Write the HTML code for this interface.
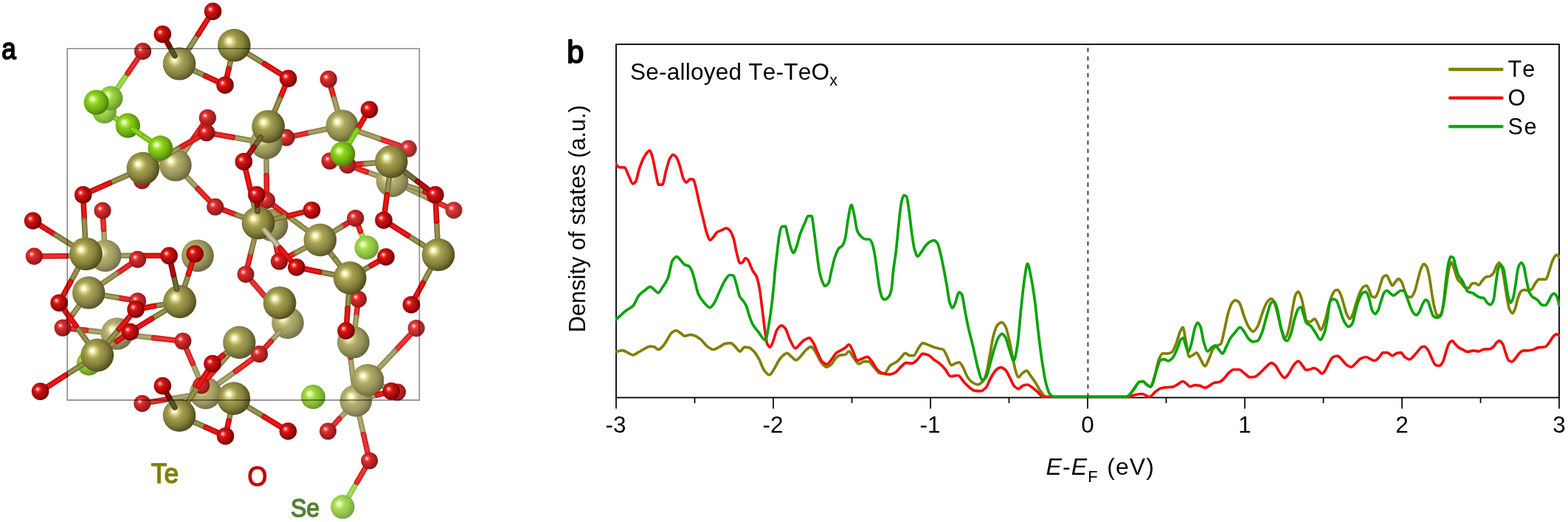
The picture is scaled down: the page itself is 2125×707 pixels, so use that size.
<!DOCTYPE html>
<html lang="en">
<head>
<meta charset="utf-8">
<title>Se-alloyed Te-TeOx structure and density of states</title>
<style>
html,body{margin:0;padding:0;background:#fff;}
body{width:2125px;height:707px;overflow:hidden;}
svg{display:block;}
</style>
</head>
<body>
<svg width="2125" height="707" viewBox="0 0 2125 707">
<rect width="2125" height="707" fill="#fff"/>
<defs>
<radialGradient id="gO0" cx="0.43" cy="0.44" r="0.61" fx="0.34" fy="0.36"><stop offset="0" stop-color="#ffc8c8"/><stop offset="0.07" stop-color="#ffc8c8"/><stop offset="0.2" stop-color="#f23434"/><stop offset="0.36" stop-color="#d01212"/><stop offset="0.66" stop-color="#a60808"/><stop offset="0.88" stop-color="#800404"/><stop offset="1" stop-color="#6a0202"/></radialGradient>
<radialGradient id="gO2" cx="0.43" cy="0.44" r="0.61" fx="0.34" fy="0.36"><stop offset="0" stop-color="#ffcece"/><stop offset="0.07" stop-color="#ffcece"/><stop offset="0.2" stop-color="#f34848"/><stop offset="0.36" stop-color="#d52a2a"/><stop offset="0.66" stop-color="#af2121"/><stop offset="0.88" stop-color="#8d1d1d"/><stop offset="1" stop-color="#791b1b"/></radialGradient>
<radialGradient id="gTe1" cx="0.43" cy="0.44" r="0.61" fx="0.34" fy="0.36"><stop offset="0" stop-color="#ffffe5"/><stop offset="0.07" stop-color="#ffffe5"/><stop offset="0.2" stop-color="#d8d386"/><stop offset="0.36" stop-color="#a8a359"/><stop offset="0.66" stop-color="#898444"/><stop offset="0.88" stop-color="#64602f"/><stop offset="1" stop-color="#4b4824"/></radialGradient>
<radialGradient id="gTe0" cx="0.43" cy="0.44" r="0.61" fx="0.34" fy="0.36"><stop offset="0" stop-color="#ffffe4"/><stop offset="0.07" stop-color="#ffffe4"/><stop offset="0.2" stop-color="#d6d180"/><stop offset="0.36" stop-color="#a39e50"/><stop offset="0.66" stop-color="#837e3a"/><stop offset="0.88" stop-color="#5c5824"/><stop offset="1" stop-color="#423e18"/></radialGradient>
<radialGradient id="gSe0" cx="0.43" cy="0.44" r="0.61" fx="0.34" fy="0.36"><stop offset="0" stop-color="#f8ffdc"/><stop offset="0.07" stop-color="#f8ffdc"/><stop offset="0.2" stop-color="#b8ec54"/><stop offset="0.36" stop-color="#8cd01c"/><stop offset="0.66" stop-color="#70b010"/><stop offset="0.88" stop-color="#548a0a"/><stop offset="1" stop-color="#447208"/></radialGradient>
<radialGradient id="gSe3" cx="0.43" cy="0.44" r="0.61" fx="0.34" fy="0.36"><stop offset="0" stop-color="#f9ffe1"/><stop offset="0.07" stop-color="#f9ffe1"/><stop offset="0.2" stop-color="#c3ef6e"/><stop offset="0.36" stop-color="#9dd73e"/><stop offset="0.66" stop-color="#85bc34"/><stop offset="0.88" stop-color="#6e9c2f"/><stop offset="1" stop-color="#60872d"/></radialGradient>
<radialGradient id="gSe4" cx="0.43" cy="0.44" r="0.61" fx="0.34" fy="0.36"><stop offset="0" stop-color="#f9ffe3"/><stop offset="0.07" stop-color="#f9ffe3"/><stop offset="0.2" stop-color="#c6f076"/><stop offset="0.36" stop-color="#a3d949"/><stop offset="0.66" stop-color="#8dc040"/><stop offset="0.88" stop-color="#76a13b"/><stop offset="1" stop-color="#698e39"/></radialGradient>
<radialGradient id="gTe3" cx="0.43" cy="0.44" r="0.61" fx="0.34" fy="0.36"><stop offset="0" stop-color="#ffffe8"/><stop offset="0.07" stop-color="#ffffe8"/><stop offset="0.2" stop-color="#dcd893"/><stop offset="0.36" stop-color="#b1ad6a"/><stop offset="0.66" stop-color="#969158"/><stop offset="0.88" stop-color="#747145"/><stop offset="1" stop-color="#5e5b3b"/></radialGradient>
<radialGradient id="gTe2" cx="0.43" cy="0.44" r="0.61" fx="0.34" fy="0.36"><stop offset="0" stop-color="#ffffe7"/><stop offset="0.07" stop-color="#ffffe7"/><stop offset="0.2" stop-color="#dad68d"/><stop offset="0.36" stop-color="#aca862"/><stop offset="0.66" stop-color="#8f8b4e"/><stop offset="0.88" stop-color="#6c693a"/><stop offset="1" stop-color="#55512f"/></radialGradient>
<radialGradient id="gO1" cx="0.43" cy="0.44" r="0.61" fx="0.34" fy="0.36"><stop offset="0" stop-color="#ffcbcb"/><stop offset="0.07" stop-color="#ffcbcb"/><stop offset="0.2" stop-color="#f33e3e"/><stop offset="0.36" stop-color="#d21e1e"/><stop offset="0.66" stop-color="#aa1414"/><stop offset="0.88" stop-color="#861111"/><stop offset="1" stop-color="#710f0f"/></radialGradient>
<radialGradient id="gTe4" cx="0.43" cy="0.44" r="0.61" fx="0.34" fy="0.36"><stop offset="0" stop-color="#ffffe9"/><stop offset="0.07" stop-color="#ffffe9"/><stop offset="0.2" stop-color="#deda99"/><stop offset="0.36" stop-color="#b5b173"/><stop offset="0.66" stop-color="#9c9861"/><stop offset="0.88" stop-color="#7d7950"/><stop offset="1" stop-color="#686546"/></radialGradient>
<radialGradient id="gO3" cx="0.43" cy="0.44" r="0.61" fx="0.34" fy="0.36"><stop offset="0" stop-color="#ffd0d0"/><stop offset="0.07" stop-color="#ffd0d0"/><stop offset="0.2" stop-color="#f45252"/><stop offset="0.36" stop-color="#d73636"/><stop offset="0.66" stop-color="#b32d2d"/><stop offset="0.88" stop-color="#932a2a"/><stop offset="1" stop-color="#802828"/></radialGradient>
<radialGradient id="gSe2" cx="0.43" cy="0.44" r="0.61" fx="0.34" fy="0.36"><stop offset="0" stop-color="#f9ffe0"/><stop offset="0.07" stop-color="#f9ffe0"/><stop offset="0.2" stop-color="#bfee65"/><stop offset="0.36" stop-color="#98d533"/><stop offset="0.66" stop-color="#7eb828"/><stop offset="0.88" stop-color="#659622"/><stop offset="1" stop-color="#578021"/></radialGradient>
<radialGradient id="gSe5" cx="0.43" cy="0.44" r="0.61" fx="0.34" fy="0.36"><stop offset="0" stop-color="#faffe5"/><stop offset="0.07" stop-color="#faffe5"/><stop offset="0.2" stop-color="#caf17f"/><stop offset="0.36" stop-color="#a9dc55"/><stop offset="0.66" stop-color="#94c44c"/><stop offset="0.88" stop-color="#7fa747"/><stop offset="1" stop-color="#739546"/></radialGradient>
<filter id="soft" filterUnits="userSpaceOnUse" x="0" y="0" width="720" height="707"><feGaussianBlur stdDeviation="0.5"/></filter>
</defs>
<g id="mol" filter="url(#soft)">
<g stroke-linecap="round" fill="none"><path d="M483.8,653.1 L472.8,672.0" stroke="#91c647" stroke-width="7.6"/><path d="M483.8,653.1 L472.8,672.0" stroke="#a6de52" stroke-width="3.8"/></g>
<circle cx="464.3" cy="686.5" r="16.2" fill="url(#gSe5)"/>
<g stroke-linecap="round" fill="none"><path d="M155.9,159.6 L157.3,160.5" stroke="#88c137" stroke-width="7.6"/><path d="M155.9,159.6 L157.3,160.5" stroke="#9edb43" stroke-width="3.8"/></g>
<g stroke-linecap="round" fill="none"><path d="M513.5,187.6 L542.2,197.5" stroke="#cb2424" stroke-width="7.6"/><path d="M513.5,187.6 L542.2,197.5" stroke="#ee3232" stroke-width="3.8"/></g>
<g stroke-linecap="round" fill="none"><path d="M488.4,313.1 L490.8,319.6" stroke="#8cc33e" stroke-width="7.6"/><path d="M488.4,313.1 L490.8,319.6" stroke="#a1dc49" stroke-width="3.8"/></g>
<g stroke-linecap="round" fill="none"><path d="M358.0,400.3 L375.3,420.3" stroke="#938f60" stroke-width="7.6"/><path d="M358.0,400.3 L375.3,420.3" stroke="#ada970" stroke-width="3.8"/></g>
<g stroke-linecap="round" fill="none"><path d="M556.1,453.1 L535.0,475.8" stroke="#cb2626" stroke-width="7.6"/><path d="M556.1,453.1 L535.0,475.8" stroke="#ee3434" stroke-width="3.8"/></g>
<g stroke-linecap="round" fill="none"><path d="M503.9,536.9 L511.4,534.9" stroke="#8b8754" stroke-width="7.6"/><path d="M503.9,536.9 L511.4,534.9" stroke="#a6a265" stroke-width="3.8"/></g>
<g stroke-linecap="round" fill="none"><path d="M467.2,559.2 L459.8,567.3" stroke="#938f60" stroke-width="7.6"/><path d="M467.2,559.2 L459.8,567.3" stroke="#ada970" stroke-width="3.8"/></g>
<g stroke-linecap="round" fill="none"><path d="M487.2,564.5 L492.7,588.5" stroke="#938f60" stroke-width="7.6"/><path d="M487.2,564.5 L492.7,588.5" stroke="#ada970" stroke-width="3.8"/></g>
<g stroke-linecap="round" fill="none"><path d="M474.9,483.9 L479.5,520.5" stroke="#949061" stroke-width="7.6"/><path d="M474.9,483.9 L479.5,520.5" stroke="#ada971" stroke-width="3.8"/></g>
<g stroke-linecap="round" fill="none"><path d="M578.1,267.2 L604.3,279.6" stroke="#cb2727" stroke-width="7.6"/><path d="M578.1,267.2 L604.3,279.6" stroke="#ee3535" stroke-width="3.8"/></g>
<circle cx="141.5" cy="151.0" r="16.3" fill="url(#gSe4)"/>
<circle cx="553.4" cy="201.3" r="11.5" fill="url(#gO3)"/>
<circle cx="615.0" cy="284.7" r="11.5" fill="url(#gO3)"/>
<circle cx="496.8" cy="335.3" r="16.3" fill="url(#gSe4)"/>
<circle cx="390.0" cy="437.2" r="21.8" fill="url(#gTe4)"/>
<circle cx="564.2" cy="444.5" r="11.5" fill="url(#gO3)"/>
<circle cx="482.3" cy="542.7" r="21.8" fill="url(#gTe4)"/>
<g stroke-linecap="round" fill="none"><path d="M165.1,346.3 L191.2,346.3" stroke="#87834e" stroke-width="7.6"/><path d="M165.1,346.3 L191.2,346.3" stroke="#a49f60" stroke-width="3.8"/></g>
<g stroke-linecap="round" fill="none"><path d="M191.2,346.3 L217.3,346.3" stroke="#c40808" stroke-width="7.6"/><path d="M191.2,346.3 L217.3,346.3" stroke="#ec1818" stroke-width="3.8"/></g>
<g stroke-linecap="round" fill="none"><path d="M474.5,480.7 L474.9,483.9" stroke="#cb2727" stroke-width="7.6"/><path d="M474.5,480.7 L474.9,483.9" stroke="#ee3535" stroke-width="3.8"/></g>
<g stroke-linecap="round" fill="none"><path d="M319.3,502.8 L296.7,519.2" stroke="#908c5c" stroke-width="7.6"/><path d="M319.3,502.8 L296.7,519.2" stroke="#aba66c" stroke-width="3.8"/></g>
<g stroke-linecap="round" fill="none"><path d="M261.1,492.3 L269.6,511.9" stroke="#928e5e" stroke-width="7.6"/><path d="M261.1,492.3 L269.6,511.9" stroke="#aca86f" stroke-width="3.8"/></g>
<g stroke-linecap="round" fill="none"><path d="M180.8,454.5 L208.5,457.6" stroke="#928e5e" stroke-width="7.6"/><path d="M180.8,454.5 L208.5,457.6" stroke="#aca86f" stroke-width="3.8"/></g>
<g stroke-linecap="round" fill="none"><path d="M230.5,540.3 L256.5,536.0" stroke="#918d5d" stroke-width="7.6"/><path d="M230.5,540.3 L256.5,536.0" stroke="#aba76e" stroke-width="3.8"/></g>
<g stroke-linecap="round" fill="none"><path d="M140.5,310.5 L141.3,323.9" stroke="#928e5e" stroke-width="7.6"/><path d="M140.5,310.5 L141.3,323.9" stroke="#aca86f" stroke-width="3.8"/></g>
<g stroke-linecap="round" fill="none"><path d="M89.2,346.7 L120.3,346.5" stroke="#918d5d" stroke-width="7.6"/><path d="M89.2,346.7 L120.3,346.5" stroke="#aba76d" stroke-width="3.8"/></g>
<g stroke-linecap="round" fill="none"><path d="M116.5,447.4 L136.2,449.6" stroke="#928e5e" stroke-width="7.6"/><path d="M116.5,447.4 L136.2,449.6" stroke="#aca86f" stroke-width="3.8"/></g>
<circle cx="473.0" cy="469.0" r="11.5" fill="url(#gO2)"/>
<circle cx="142.7" cy="346.3" r="21.8" fill="url(#gTe4)"/>
<circle cx="158.5" cy="452.0" r="21.8" fill="url(#gTe4)"/>
<circle cx="278.6" cy="532.4" r="21.8" fill="url(#gTe4)"/>
<g stroke-linecap="round" fill="none"><path d="M494.8,634.2 L483.8,653.1" stroke="#cb2626" stroke-width="7.6"/><path d="M494.8,634.2 L483.8,653.1" stroke="#ee3434" stroke-width="3.8"/></g>
<g stroke-linecap="round" fill="none"><path d="M340.7,380.3 L358.0,400.3" stroke="#cb2525" stroke-width="7.6"/><path d="M340.7,380.3 L358.0,400.3" stroke="#ee3333" stroke-width="3.8"/></g>
<g stroke-linecap="round" fill="none"><path d="M459.8,567.3 L452.5,575.3" stroke="#cb2525" stroke-width="7.6"/><path d="M459.8,567.3 L452.5,575.3" stroke="#ee3333" stroke-width="3.8"/></g>
<g stroke-linecap="round" fill="none"><path d="M492.7,588.5 L498.1,612.5" stroke="#cb2525" stroke-width="7.6"/><path d="M492.7,588.5 L498.1,612.5" stroke="#ee3333" stroke-width="3.8"/></g>
<g stroke-linecap="round" fill="none"><path d="M551.8,254.8 L578.1,267.2" stroke="#928d5e" stroke-width="7.6"/><path d="M551.8,254.8 L578.1,267.2" stroke="#aba76e" stroke-width="3.8"/></g>
<g stroke-linecap="round" fill="none"><path d="M379.4,448.8 L367.2,462.3" stroke="#918d5e" stroke-width="7.6"/><path d="M379.4,448.8 L367.2,462.3" stroke="#aba76e" stroke-width="3.8"/></g>
<g stroke-linecap="round" fill="none"><path d="M523.5,524.9 L527.7,526.6" stroke="#cb2323" stroke-width="7.6"/><path d="M523.5,524.9 L527.7,526.6" stroke="#ee3232" stroke-width="3.8"/></g>
<circle cx="538.6" cy="531.0" r="11.5" fill="url(#gO2)"/>
<g stroke-linecap="round" fill="none"><path d="M252.6,472.8 L261.1,492.3" stroke="#cb2424" stroke-width="7.6"/><path d="M252.6,472.8 L261.1,492.3" stroke="#ee3333" stroke-width="3.8"/></g>
<g stroke-linecap="round" fill="none"><path d="M208.5,457.6 L236.2,460.7" stroke="#cb2424" stroke-width="7.6"/><path d="M208.5,457.6 L236.2,460.7" stroke="#ee3333" stroke-width="3.8"/></g>
<g stroke-linecap="round" fill="none"><path d="M139.7,297.0 L140.5,310.5" stroke="#cb2424" stroke-width="7.6"/><path d="M139.7,297.0 L140.5,310.5" stroke="#ee3333" stroke-width="3.8"/></g>
<g stroke-linecap="round" fill="none"><path d="M96.8,445.3 L116.5,447.4" stroke="#cb2424" stroke-width="7.6"/><path d="M96.8,445.3 L116.5,447.4" stroke="#ee3333" stroke-width="3.8"/></g>
<g stroke-linecap="round" fill="none"><path d="M399.5,183.9 L420.6,179.4" stroke="#ca2121" stroke-width="7.6"/><path d="M399.5,183.9 L420.6,179.4" stroke="#ee2f2f" stroke-width="3.8"/></g>
<g stroke-linecap="round" fill="none"><path d="M340.2,341.8 L335.8,359.9" stroke="#c81b1b" stroke-width="7.6"/><path d="M340.2,341.8 L335.8,359.9" stroke="#ed2929" stroke-width="3.8"/></g>
<g stroke-linecap="round" fill="none"><path d="M99.5,424.5 L92.1,434.5" stroke="#c91e1e" stroke-width="7.6"/><path d="M99.5,424.5 L92.1,434.5" stroke="#ee2c2c" stroke-width="3.8"/></g>
<g stroke-linecap="round" fill="none"><path d="M484.2,416.9 L482.8,429.0" stroke="#ca2222" stroke-width="7.6"/><path d="M484.2,416.9 L482.8,429.0" stroke="#ee3030" stroke-width="3.8"/></g>
<g stroke-linecap="round" fill="none"><path d="M552.9,252.0 L576.1,259.5" stroke="#888450" stroke-width="7.6"/><path d="M552.9,252.0 L576.1,259.5" stroke="#a5a062" stroke-width="3.8"/></g>
<g stroke-linecap="round" fill="none"><path d="M496.3,232.6 L510.5,237.6" stroke="#8f8b5a" stroke-width="7.6"/><path d="M496.3,232.6 L510.5,237.6" stroke="#aaa56b" stroke-width="3.8"/></g>
<g stroke-linecap="round" fill="none"><path d="M158.6,402.9 L174.9,405.7" stroke="#c91e1e" stroke-width="7.6"/><path d="M158.6,402.9 L174.9,405.7" stroke="#ee2c2c" stroke-width="3.8"/></g>
<circle cx="139.0" cy="285.2" r="11.5" fill="url(#gO2)"/>
<circle cx="388.0" cy="186.3" r="11.5" fill="url(#gO2)"/>
<circle cx="447.0" cy="218.0" r="11.5" fill="url(#gO2)"/>
<circle cx="531.6" cy="245.2" r="21.8" fill="url(#gTe4)"/>
<circle cx="333.0" cy="371.4" r="11.5" fill="url(#gO2)"/>
<circle cx="485.5" cy="405.2" r="11.5" fill="url(#gO2)"/>
<circle cx="186.5" cy="407.7" r="11.5" fill="url(#gO2)"/>
<circle cx="85.1" cy="444.0" r="11.5" fill="url(#gO2)"/>
<circle cx="247.9" cy="462.0" r="11.5" fill="url(#gO2)"/>
<circle cx="444.5" cy="584.0" r="11.5" fill="url(#gO2)"/>
<circle cx="500.7" cy="624.0" r="11.5" fill="url(#gO2)"/>
<g stroke-linecap="round" fill="none"><path d="M535.0,475.8 L513.8,498.4" stroke="#908c5b" stroke-width="7.6"/><path d="M535.0,475.8 L513.8,498.4" stroke="#aaa66c" stroke-width="3.8"/></g>
<g stroke-linecap="round" fill="none"><path d="M204.4,544.5 L230.5,540.3" stroke="#ca2222" stroke-width="7.6"/><path d="M204.4,544.5 L230.5,540.3" stroke="#ee3131" stroke-width="3.8"/></g>
<g stroke-linecap="round" fill="none"><path d="M519.3,523.2 L523.5,524.9" stroke="#8f8b5a" stroke-width="7.6"/><path d="M519.3,523.2 L523.5,524.9" stroke="#a9a56a" stroke-width="3.8"/></g>
<g stroke-linecap="round" fill="none"><path d="M58.1,347.0 L89.2,346.7" stroke="#ca2121" stroke-width="7.6"/><path d="M58.1,347.0 L89.2,346.7" stroke="#ee2f2f" stroke-width="3.8"/></g>
<g stroke-linecap="round" fill="none"><path d="M173.2,99.1 L159.5,119.1" stroke="#88c137" stroke-width="7.6"/><path d="M173.2,99.1 L159.5,119.1" stroke="#9edb43" stroke-width="3.8"/></g>
<g stroke-linecap="round" fill="none"><path d="M262.5,187.2 L250.4,205.2" stroke="#8d8957" stroke-width="7.6"/><path d="M262.5,187.2 L250.4,205.2" stroke="#a8a468" stroke-width="3.8"/></g>
<g stroke-linecap="round" fill="none"><path d="M315.1,185.8 L338.7,190.0" stroke="#8b8754" stroke-width="7.6"/><path d="M315.1,185.8 L338.7,190.0" stroke="#a7a266" stroke-width="3.8"/></g>
<g stroke-linecap="round" fill="none"><path d="M361.0,216.2 L361.2,237.9" stroke="#8c8856" stroke-width="7.6"/><path d="M361.0,216.2 L361.2,237.9" stroke="#a7a367" stroke-width="3.8"/></g>
<g stroke-linecap="round" fill="none"><path d="M253.3,239.9 L268.4,255.8" stroke="#8c8856" stroke-width="7.6"/><path d="M253.3,239.9 L268.4,255.8" stroke="#a7a367" stroke-width="3.8"/></g>
<g stroke-linecap="round" fill="none"><path d="M374.6,334.7 L373.0,326.9" stroke="#8c8755" stroke-width="7.6"/><path d="M374.6,334.7 L373.0,326.9" stroke="#a7a366" stroke-width="3.8"/></g>
<circle cx="150.0" cy="133.0" r="16.4" fill="url(#gSe3)"/>
<circle cx="360.8" cy="193.8" r="21.9" fill="url(#gTe3)"/>
<circle cx="237.8" cy="223.7" r="21.9" fill="url(#gTe3)"/>
<circle cx="368.5" cy="305.0" r="21.9" fill="url(#gTe3)"/>
<circle cx="192.8" cy="546.4" r="11.5" fill="url(#gO2)"/>
<circle cx="498.5" cy="514.8" r="21.9" fill="url(#gTe3)"/>
<g stroke-linecap="round" fill="none"><path d="M367.2,462.3 L359.4,470.8" stroke="#ca2020" stroke-width="7.6"/><path d="M367.2,462.3 L359.4,470.8" stroke="#ee2f2f" stroke-width="3.8"/></g>
<g stroke-linecap="round" fill="none"><path d="M482.8,429.0 L481.4,441.1" stroke="#8d8957" stroke-width="7.6"/><path d="M482.8,429.0 L481.4,441.1" stroke="#a8a468" stroke-width="3.8"/></g>
<g stroke-linecap="round" fill="none"><path d="M482.1,227.5 L496.3,232.6" stroke="#ca2020" stroke-width="7.6"/><path d="M482.1,227.5 L496.3,232.6" stroke="#ee2f2f" stroke-width="3.8"/></g>
<g stroke-linecap="round" fill="none"><path d="M341.9,486.4 L319.3,502.8" stroke="#ca2020" stroke-width="7.6"/><path d="M341.9,486.4 L319.3,502.8" stroke="#ee2e2e" stroke-width="3.8"/></g>
<g stroke-linecap="round" fill="none"><path d="M186.8,79.1 L173.2,99.1" stroke="#ca1f1f" stroke-width="7.6"/><path d="M186.8,79.1 L173.2,99.1" stroke="#ee2e2e" stroke-width="3.8"/></g>
<g stroke-linecap="round" fill="none"><path d="M484.8,177.7 L513.5,187.6" stroke="#8c8856" stroke-width="7.6"/><path d="M484.8,177.7 L513.5,187.6" stroke="#a7a367" stroke-width="3.8"/></g>
<g stroke-linecap="round" fill="none"><path d="M485.9,306.5 L488.4,313.1" stroke="#c91f1f" stroke-width="7.6"/><path d="M485.9,306.5 L488.4,313.1" stroke="#ee2d2d" stroke-width="3.8"/></g>
<g stroke-linecap="round" fill="none"><path d="M448.5,118.5 L452.9,133.7" stroke="#c91e1e" stroke-width="7.6"/><path d="M448.5,118.5 L452.9,133.7" stroke="#ee2c2c" stroke-width="3.8"/></g>
<g stroke-linecap="round" fill="none"><path d="M295.0,496.9 L280.5,513.2" stroke="#c81a1a" stroke-width="7.6"/><path d="M295.0,496.9 L280.5,513.2" stroke="#ed2929" stroke-width="3.8"/></g>
<g stroke-linecap="round" fill="none"><path d="M482.8,222.6 L495.4,221.6" stroke="#c81919" stroke-width="7.6"/><path d="M482.8,222.6 L495.4,221.6" stroke="#ed2828" stroke-width="3.8"/></g>
<circle cx="193.5" cy="69.4" r="11.6" fill="url(#gO2)"/>
<circle cx="445.2" cy="107.2" r="11.6" fill="url(#gO2)"/>
<circle cx="471.0" cy="223.5" r="11.6" fill="url(#gO2)"/>
<circle cx="478.9" cy="463.4" r="21.9" fill="url(#gTe3)"/>
<circle cx="46.3" cy="347.1" r="11.6" fill="url(#gO2)"/>
<circle cx="267.9" cy="346.3" r="21.9" fill="url(#gTe3)"/>
<circle cx="272.7" cy="522.0" r="11.6" fill="url(#gO2)"/>
<g stroke-linecap="round" fill="none"><path d="M274.7,169.3 L262.5,187.2" stroke="#c91e1e" stroke-width="7.6"/><path d="M274.7,169.3 L262.5,187.2" stroke="#ee2d2d" stroke-width="3.8"/></g>
<g stroke-linecap="round" fill="none"><path d="M420.6,179.4 L441.7,175.0" stroke="#8b8754" stroke-width="7.6"/><path d="M420.6,179.4 L441.7,175.0" stroke="#a6a265" stroke-width="3.8"/></g>
<circle cx="281.3" cy="159.5" r="11.6" fill="url(#gO2)"/>
<circle cx="192.5" cy="244.6" r="11.6" fill="url(#gO2)"/>
<circle cx="351.5" cy="479.5" r="11.6" fill="url(#gO2)"/>
<circle cx="424.4" cy="537.6" r="16.5" fill="url(#gSe3)"/>
<g stroke-linecap="round" fill="none"><path d="M361.2,237.9 L361.4,259.6" stroke="#c91d1d" stroke-width="7.6"/><path d="M361.2,237.9 L361.4,259.6" stroke="#ee2b2b" stroke-width="3.8"/></g>
<g stroke-linecap="round" fill="none"><path d="M268.4,255.8 L283.6,271.7" stroke="#c91d1d" stroke-width="7.6"/><path d="M268.4,255.8 L283.6,271.7" stroke="#ee2b2b" stroke-width="3.8"/></g>
<g stroke-linecap="round" fill="none"><path d="M452.9,133.7 L457.3,148.9" stroke="#8a8552" stroke-width="7.6"/><path d="M452.9,133.7 L457.3,148.9" stroke="#a6a164" stroke-width="3.8"/></g>
<g stroke-linecap="round" fill="none"><path d="M376.1,342.4 L374.6,334.7" stroke="#c91b1b" stroke-width="7.6"/><path d="M376.1,342.4 L374.6,334.7" stroke="#ed2a2a" stroke-width="3.8"/></g>
<g stroke-linecap="round" fill="none"><path d="M371.0,278.4 L393.4,295.0" stroke="#c81717" stroke-width="7.6"/><path d="M371.0,278.4 L393.4,295.0" stroke="#ed2626" stroke-width="3.8"/></g>
<g stroke-linecap="round" fill="none"><path d="M321.1,291.2 L302.8,284.3" stroke="#c71515" stroke-width="7.6"/><path d="M321.1,291.2 L302.8,284.3" stroke="#ed2424" stroke-width="3.8"/></g>
<g stroke-linecap="round" fill="none"><path d="M462.3,307.5 L471.7,301.7" stroke="#c81717" stroke-width="7.6"/><path d="M462.3,307.5 L471.7,301.7" stroke="#ed2626" stroke-width="3.8"/></g>
<g stroke-linecap="round" fill="none"><path d="M157.7,370.9 L176.7,357.9" stroke="#c81818" stroke-width="7.6"/><path d="M157.7,370.9 L176.7,357.9" stroke="#ed2727" stroke-width="3.8"/></g>
<circle cx="463.6" cy="170.4" r="22.0" fill="url(#gTe2)"/>
<circle cx="481.7" cy="295.5" r="11.6" fill="url(#gO2)"/>
<circle cx="361.5" cy="271.4" r="11.6" fill="url(#gO2)"/>
<circle cx="291.7" cy="280.2" r="11.6" fill="url(#gO2)"/>
<circle cx="186.5" cy="351.3" r="11.6" fill="url(#gO2)"/>
<g stroke-linecap="round" fill="none"><path d="M291.4,181.7 L315.1,185.8" stroke="#c81a1a" stroke-width="7.6"/><path d="M291.4,181.7 L315.1,185.8" stroke="#ed2929" stroke-width="3.8"/></g>
<g stroke-linecap="round" fill="none"><path d="M401.5,342.0 L389.0,348.5" stroke="#c71616" stroke-width="7.6"/><path d="M401.5,342.0 L389.0,348.5" stroke="#ed2525" stroke-width="3.8"/></g>
<circle cx="378.5" cy="354.0" r="11.6" fill="url(#gO1)"/>
<g stroke-linecap="round" fill="none"><path d="M269.5,185.5 L241.4,201.3" stroke="#c71313" stroke-width="7.6"/><path d="M269.5,185.5 L241.4,201.3" stroke="#ed2222" stroke-width="3.8"/></g>
<circle cx="279.8" cy="179.7" r="11.6" fill="url(#gO1)"/>
<g stroke-linecap="round" fill="none"><path d="M106.9,414.4 L99.5,424.5" stroke="#847f4a" stroke-width="7.6"/><path d="M106.9,414.4 L99.5,424.5" stroke="#a19d5c" stroke-width="3.8"/></g>
<g stroke-linecap="round" fill="none"><path d="M142.3,400.2 L158.6,402.9" stroke="#847f4a" stroke-width="7.6"/><path d="M142.3,400.2 L158.6,402.9" stroke="#a19d5c" stroke-width="3.8"/></g>
<circle cx="120.5" cy="492.0" r="16.6" fill="url(#gSe2)"/>
<g stroke-linecap="round" fill="none"><path d="M157.3,160.5 L158.8,161.4" stroke="#7dbc25" stroke-width="7.6"/><path d="M157.3,160.5 L158.8,161.4" stroke="#95d732" stroke-width="3.8"/></g>
<g stroke-linecap="round" fill="none"><path d="M309.4,480.6 L295.0,496.9" stroke="#837e48" stroke-width="7.6"/><path d="M309.4,480.6 L295.0,496.9" stroke="#a09c5a" stroke-width="3.8"/></g>
<g stroke-linecap="round" fill="none"><path d="M138.7,383.8 L157.7,370.9" stroke="#827d46" stroke-width="7.6"/><path d="M138.7,383.8 L157.7,370.9" stroke="#9f9b59" stroke-width="3.8"/></g>
<g stroke-linecap="round" fill="none"><path d="M393.4,295.0 L415.8,311.7" stroke="#817c45" stroke-width="7.6"/><path d="M393.4,295.0 L415.8,311.7" stroke="#9f9a57" stroke-width="3.8"/></g>
<g stroke-linecap="round" fill="none"><path d="M452.9,313.3 L462.3,307.5" stroke="#817c45" stroke-width="7.6"/><path d="M452.9,313.3 L462.3,307.5" stroke="#9f9a57" stroke-width="3.8"/></g>
<g stroke-linecap="round" fill="none"><path d="M495.4,221.6 L508.0,220.6" stroke="#807c44" stroke-width="7.6"/><path d="M495.4,221.6 L508.0,220.6" stroke="#9e9a57" stroke-width="3.8"/></g>
<g stroke-linecap="round" fill="none"><path d="M414.0,335.4 L401.5,342.0" stroke="#807b44" stroke-width="7.6"/><path d="M414.0,335.4 L401.5,342.0" stroke="#9e9957" stroke-width="3.8"/></g>
<g stroke-linecap="round" fill="none"><path d="M306.7,477.7 L301.9,481.5" stroke="#7b763c" stroke-width="7.6"/><path d="M306.7,477.7 L301.9,481.5" stroke="#9a9550" stroke-width="3.8"/></g>
<circle cx="324.3" cy="463.8" r="22.2" fill="url(#gTe1)"/>
<circle cx="120.2" cy="396.4" r="22.2" fill="url(#gTe1)"/>
<g stroke-linecap="round" fill="none"><path d="M511.4,534.9 L518.9,532.9" stroke="#c60f0f" stroke-width="7.6"/><path d="M511.4,534.9 L518.9,532.9" stroke="#ed1f1f" stroke-width="3.8"/></g>
<g stroke-linecap="round" fill="none"><path d="M344.7,323.7 L340.2,341.8" stroke="#7e7941" stroke-width="7.6"/><path d="M344.7,323.7 L340.2,341.8" stroke="#9d9854" stroke-width="3.8"/></g>
<g stroke-linecap="round" fill="none"><path d="M576.1,259.5 L578.7,260.3" stroke="#c60f0f" stroke-width="7.6"/><path d="M576.1,259.5 L578.7,260.3" stroke="#ed1e1e" stroke-width="3.8"/></g>
<g stroke-linecap="round" fill="none"><path d="M241.4,201.3 L213.3,217.0" stroke="#7d7840" stroke-width="7.6"/><path d="M241.4,201.3 L213.3,217.0" stroke="#9c9753" stroke-width="3.8"/></g>
<g stroke-linecap="round" fill="none"><path d="M268.6,46.4 L255.1,67.4" stroke="#7b763d" stroke-width="7.6"/><path d="M268.6,46.4 L255.1,67.4" stroke="#9a9650" stroke-width="3.8"/></g>
<g stroke-linecap="round" fill="none"><path d="M263.3,95.8 L278.8,103.0" stroke="#7b763c" stroke-width="7.6"/><path d="M263.3,95.8 L278.8,103.0" stroke="#9a954f" stroke-width="3.8"/></g>
<g stroke-linecap="round" fill="none"><path d="M447.6,342.6 L454.0,350.7" stroke="#7b763c" stroke-width="7.6"/><path d="M447.6,342.6 L454.0,350.7" stroke="#9a9550" stroke-width="3.8"/></g>
<circle cx="243.0" cy="86.3" r="22.3" fill="url(#gTe1)"/>
<circle cx="433.8" cy="325.0" r="22.3" fill="url(#gTe1)"/>
<g stroke-linecap="round" fill="none"><path d="M329.0,294.1 L321.1,291.2" stroke="#7c773e" stroke-width="7.6"/><path d="M329.0,294.1 L321.1,291.2" stroke="#9b9651" stroke-width="3.8"/></g>
<g stroke-linecap="round" fill="none"><path d="M268.3,523.1 L255.1,543.7" stroke="#787338" stroke-width="7.6"/><path d="M268.3,523.1 L255.1,543.7" stroke="#98934c" stroke-width="3.8"/></g>
<g stroke-linecap="round" fill="none"><path d="M263.4,571.7 L279.1,578.8" stroke="#787338" stroke-width="7.6"/><path d="M263.4,571.7 L279.1,578.8" stroke="#98934c" stroke-width="3.8"/></g>
<g stroke-linecap="round" fill="none"><path d="M548.2,232.4 L565.9,245.8" stroke="#5c582d" stroke-width="7.6"/><path d="M548.2,232.4 L565.9,245.8" stroke="#74703c" stroke-width="3.8"/></g>
<g stroke-linecap="round" fill="none"><path d="M527.4,241.1 L524.5,263.8" stroke="#7a753b" stroke-width="7.6"/><path d="M527.4,241.1 L524.5,263.8" stroke="#99944e" stroke-width="3.8"/></g>
<circle cx="173.2" cy="170.0" r="16.7" fill="url(#gSe0)"/>
<circle cx="530.3" cy="218.9" r="22.3" fill="url(#gTe0)"/>
<circle cx="243.0" cy="562.5" r="22.3" fill="url(#gTe0)"/>
<g stroke-linecap="round" fill="none"><path d="M312.3,83.1 L310.0,93.4" stroke="#787338" stroke-width="7.6"/><path d="M312.3,83.1 L310.0,93.4" stroke="#98934c" stroke-width="3.8"/></g>
<g stroke-linecap="round" fill="none"><path d="M336.4,73.0 L358.5,86.6" stroke="#79743a" stroke-width="7.6"/><path d="M336.4,73.0 L358.5,86.6" stroke="#99944e" stroke-width="3.8"/></g>
<g stroke-linecap="round" fill="none"><path d="M592.9,322.6 L591.7,299.2" stroke="#797439" stroke-width="7.6"/><path d="M592.9,322.6 L591.7,299.2" stroke="#99944d" stroke-width="3.8"/></g>
<g stroke-linecap="round" fill="none"><path d="M575.1,333.0 L552.5,318.8" stroke="#797439" stroke-width="7.6"/><path d="M575.1,333.0 L552.5,318.8" stroke="#99944d" stroke-width="3.8"/></g>
<g stroke-linecap="round" fill="none"><path d="M583.3,364.7 L573.2,383.5" stroke="#787338" stroke-width="7.6"/><path d="M583.3,364.7 L573.2,383.5" stroke="#98934c" stroke-width="3.8"/></g>
<g stroke-linecap="round" fill="none"><path d="M148.4,248.1 L173.3,237.1" stroke="#797439" stroke-width="7.6"/><path d="M148.4,248.1 L173.3,237.1" stroke="#99944d" stroke-width="3.8"/></g>
<circle cx="317.3" cy="61.3" r="22.3" fill="url(#gTe0)"/>
<circle cx="193.8" cy="228.0" r="22.3" fill="url(#gTe0)"/>
<circle cx="379.1" cy="410.2" r="22.3" fill="url(#gTe0)"/>
<circle cx="594.0" cy="345.0" r="22.3" fill="url(#gTe0)"/>
<g stroke-linecap="round" fill="none"><path d="M282.1,25.3 L268.6,46.4" stroke="#c40909" stroke-width="7.6"/><path d="M282.1,25.3 L268.6,46.4" stroke="#ec1919" stroke-width="3.8"/></g>
<g stroke-linecap="round" fill="none"><path d="M229.0,61.7 L236.9,75.6" stroke="#484522" stroke-width="7.6"/><path d="M229.0,61.7 L236.9,75.6" stroke="#5b582e" stroke-width="3.8"/></g>
<g stroke-linecap="round" fill="none"><path d="M358.5,86.6 L380.5,100.2" stroke="#c40909" stroke-width="7.6"/><path d="M358.5,86.6 L380.5,100.2" stroke="#ec1919" stroke-width="3.8"/></g>
<g stroke-linecap="round" fill="none"><path d="M454.0,350.7 L460.4,358.8" stroke="#787338" stroke-width="7.6"/><path d="M454.0,350.7 L460.4,358.8" stroke="#98934c" stroke-width="3.8"/></g>
<g stroke-linecap="round" fill="none"><path d="M386.1,117.3 L379.1,134.0" stroke="#c40808" stroke-width="7.6"/><path d="M386.1,117.3 L379.1,134.0" stroke="#ec1818" stroke-width="3.8"/></g>
<circle cx="390.6" cy="106.4" r="11.8" fill="url(#gO0)"/>
<g stroke-linecap="round" fill="none"><path d="M565.9,245.8 L580.5,256.8" stroke="#930606" stroke-width="7.6"/><path d="M565.9,245.8 L580.5,256.8" stroke="#b11212" stroke-width="3.8"/></g>
<g stroke-linecap="round" fill="none"><path d="M524.5,263.8 L521.5,286.5" stroke="#c40808" stroke-width="7.6"/><path d="M524.5,263.8 L521.5,286.5" stroke="#ec1818" stroke-width="3.8"/></g>
<g stroke-linecap="round" fill="none"><path d="M179.4,174.3 L195.2,185.2" stroke="#72b612" stroke-width="7.6"/><path d="M179.4,174.3 L195.2,185.2" stroke="#8cd420" stroke-width="3.8"/></g>
<g stroke-linecap="round" fill="none"><path d="M591.7,299.2 L590.5,275.7" stroke="#c40808" stroke-width="7.6"/><path d="M591.7,299.2 L590.5,275.7" stroke="#ec1818" stroke-width="3.8"/></g>
<g stroke-linecap="round" fill="none"><path d="M552.5,318.8 L530.0,304.5" stroke="#c40808" stroke-width="7.6"/><path d="M552.5,318.8 L530.0,304.5" stroke="#ec1818" stroke-width="3.8"/></g>
<g stroke-linecap="round" fill="none"><path d="M123.5,259.1 L148.4,248.1" stroke="#c40808" stroke-width="7.6"/><path d="M123.5,259.1 L148.4,248.1" stroke="#ec1818" stroke-width="3.8"/></g>
<circle cx="288.5" cy="15.4" r="11.8" fill="url(#gO0)"/>
<g stroke-linecap="round" fill="none"><path d="M278.8,103.0 L294.3,110.2" stroke="#c40808" stroke-width="7.6"/><path d="M278.8,103.0 L294.3,110.2" stroke="#ec1818" stroke-width="3.8"/></g>
<g stroke-linecap="round" fill="none"><path d="M229.0,537.9 L236.9,551.8" stroke="#474421" stroke-width="7.6"/><path d="M229.0,537.9 L236.9,551.8" stroke="#5a572d" stroke-width="3.8"/></g>
<g stroke-linecap="round" fill="none"><path d="M379.1,134.0 L372.2,150.6" stroke="#787338" stroke-width="7.6"/><path d="M379.1,134.0 L372.2,150.6" stroke="#98934c" stroke-width="3.8"/></g>
<g stroke-linecap="round" fill="none"><path d="M338.9,255.2 L344.8,280.1" stroke="#787338" stroke-width="7.6"/><path d="M338.9,255.2 L344.8,280.1" stroke="#98934c" stroke-width="3.8"/></g>
<g stroke-linecap="round" fill="none"><path d="M371.8,296.7 L391.4,292.1" stroke="#787338" stroke-width="7.6"/><path d="M371.8,296.7 L391.4,292.1" stroke="#98934c" stroke-width="3.8"/></g>
<g stroke-linecap="round" fill="none"><path d="M391.4,292.1 L411.0,287.4" stroke="#c40808" stroke-width="7.6"/><path d="M391.4,292.1 L411.0,287.4" stroke="#ec1818" stroke-width="3.8"/></g>
<g stroke-linecap="round" fill="none"><path d="M432.8,368.2 L452.2,372.0" stroke="#787338" stroke-width="7.6"/><path d="M432.8,368.2 L452.2,372.0" stroke="#98934c" stroke-width="3.8"/></g>
<g stroke-linecap="round" fill="none"><path d="M493.6,365.1 L503.2,359.5" stroke="#787338" stroke-width="7.6"/><path d="M493.6,365.1 L503.2,359.5" stroke="#98934c" stroke-width="3.8"/></g>
<g stroke-linecap="round" fill="none"><path d="M503.2,359.5 L512.8,353.9" stroke="#c40808" stroke-width="7.6"/><path d="M503.2,359.5 L512.8,353.9" stroke="#ec1818" stroke-width="3.8"/></g>
<g stroke-linecap="round" fill="none"><path d="M472.6,398.7 L471.2,417.5" stroke="#787338" stroke-width="7.6"/><path d="M472.6,398.7 L471.2,417.5" stroke="#98934c" stroke-width="3.8"/></g>
<g stroke-linecap="round" fill="none"><path d="M312.0,561.5 L310.0,570.3" stroke="#787338" stroke-width="7.6"/><path d="M312.0,561.5 L310.0,570.3" stroke="#98934c" stroke-width="3.8"/></g>
<g stroke-linecap="round" fill="none"><path d="M336.0,551.2 L358.1,564.5" stroke="#787338" stroke-width="7.6"/><path d="M336.0,551.2 L358.1,564.5" stroke="#98934c" stroke-width="3.8"/></g>
<g stroke-linecap="round" fill="none"><path d="M358.1,564.5 L380.3,577.9" stroke="#c40808" stroke-width="7.6"/><path d="M358.1,564.5 L380.3,577.9" stroke="#ec1818" stroke-width="3.8"/></g>
<g stroke-linecap="round" fill="none"><path d="M113.2,275.7 L114.3,298.6" stroke="#c40808" stroke-width="7.6"/><path d="M113.2,275.7 L114.3,298.6" stroke="#ec1818" stroke-width="3.8"/></g>
<g stroke-linecap="round" fill="none"><path d="M114.3,298.6 L115.4,321.4" stroke="#787338" stroke-width="7.6"/><path d="M114.3,298.6 L115.4,321.4" stroke="#98934c" stroke-width="3.8"/></g>
<g stroke-linecap="round" fill="none"><path d="M54.6,305.2 L76.0,318.6" stroke="#c40808" stroke-width="7.6"/><path d="M54.6,305.2 L76.0,318.6" stroke="#ec1818" stroke-width="3.8"/></g>
<g stroke-linecap="round" fill="none"><path d="M76.0,318.6 L97.4,331.9" stroke="#787338" stroke-width="7.6"/><path d="M76.0,318.6 L97.4,331.9" stroke="#98934c" stroke-width="3.8"/></g>
<g stroke-linecap="round" fill="none"><path d="M105.7,363.5 L95.7,381.7" stroke="#787338" stroke-width="7.6"/><path d="M105.7,363.5 L95.7,381.7" stroke="#98934c" stroke-width="3.8"/></g>
<g stroke-linecap="round" fill="none"><path d="M255.5,371.1 L250.4,387.1" stroke="#787338" stroke-width="7.6"/><path d="M255.5,371.1 L250.4,387.1" stroke="#98934c" stroke-width="3.8"/></g>
<g stroke-linecap="round" fill="none"><path d="M208.6,414.6 L221.5,412.4" stroke="#787338" stroke-width="7.6"/><path d="M208.6,414.6 L221.5,412.4" stroke="#98934c" stroke-width="3.8"/></g>
<g stroke-linecap="round" fill="none"><path d="M205.5,431.8 L224.5,420.2" stroke="#787338" stroke-width="7.6"/><path d="M205.5,431.8 L224.5,420.2" stroke="#98934c" stroke-width="3.8"/></g>
<g stroke-linecap="round" fill="none"><path d="M161.3,445.9 L146.2,463.9" stroke="#787338" stroke-width="7.6"/><path d="M161.3,445.9 L146.2,463.9" stroke="#98934c" stroke-width="3.8"/></g>
<g stroke-linecap="round" fill="none"><path d="M158.5,462.2 L150.1,468.1" stroke="#787338" stroke-width="7.6"/><path d="M158.5,462.2 L150.1,468.1" stroke="#98934c" stroke-width="3.8"/></g>
<g stroke-linecap="round" fill="none"><path d="M102.8,441.3 L118.6,462.9" stroke="#787338" stroke-width="7.6"/><path d="M102.8,441.3 L118.6,462.9" stroke="#98934c" stroke-width="3.8"/></g>
<g stroke-linecap="round" fill="none"><path d="M112.9,493.0 L88.7,508.4" stroke="#787338" stroke-width="7.6"/><path d="M112.9,493.0 L88.7,508.4" stroke="#98934c" stroke-width="3.8"/></g>
<g stroke-linecap="round" fill="none"><path d="M88.7,508.4 L64.6,523.8" stroke="#c40808" stroke-width="7.6"/><path d="M88.7,508.4 L64.6,523.8" stroke="#ec1818" stroke-width="3.8"/></g>
<circle cx="363.6" cy="171.3" r="22.4" fill="url(#gTe0)"/>
<circle cx="112.7" cy="263.9" r="11.8" fill="url(#gO0)"/>
<circle cx="44.6" cy="299.0" r="11.8" fill="url(#gO0)"/>
<circle cx="589.9" cy="263.9" r="11.8" fill="url(#gO0)"/>
<circle cx="520.0" cy="298.2" r="11.8" fill="url(#gO0)"/>
<circle cx="422.5" cy="284.7" r="11.8" fill="url(#gO0)"/>
<circle cx="350.0" cy="301.9" r="22.4" fill="url(#gTe0)"/>
<circle cx="523.0" cy="348.0" r="11.8" fill="url(#gO0)"/>
<circle cx="474.2" cy="376.4" r="22.4" fill="url(#gTe0)"/>
<circle cx="116.4" cy="343.8" r="22.4" fill="url(#gTe0)"/>
<circle cx="243.6" cy="408.5" r="22.4" fill="url(#gTe0)"/>
<circle cx="131.8" cy="481.0" r="22.4" fill="url(#gTe0)"/>
<circle cx="54.6" cy="530.1" r="11.8" fill="url(#gO0)"/>
<circle cx="316.8" cy="539.6" r="22.4" fill="url(#gTe0)"/>
<circle cx="390.4" cy="584.0" r="11.8" fill="url(#gO0)"/>
<g stroke-linecap="round" fill="none"><path d="M310.0,93.4 L307.6,103.7" stroke="#c40808" stroke-width="7.6"/><path d="M310.0,93.4 L307.6,103.7" stroke="#ec1818" stroke-width="3.8"/></g>
<g stroke-linecap="round" fill="none"><path d="M301.9,481.5 L297.2,485.3" stroke="#c40808" stroke-width="7.6"/><path d="M301.9,481.5 L297.2,485.3" stroke="#ec1818" stroke-width="3.8"/></g>
<g stroke-linecap="round" fill="none"><path d="M95.7,381.7 L85.8,399.8" stroke="#c40808" stroke-width="7.6"/><path d="M95.7,381.7 L85.8,399.8" stroke="#ec1818" stroke-width="3.8"/></g>
<g stroke-linecap="round" fill="none"><path d="M87.1,419.7 L102.8,441.3" stroke="#c40808" stroke-width="7.6"/><path d="M87.1,419.7 L102.8,441.3" stroke="#ec1818" stroke-width="3.8"/></g>
<g stroke-linecap="round" fill="none"><path d="M358.0,311.2 L379.4,336.0" stroke="#9c996e" stroke-width="7.6"/><path d="M358.0,311.2 L379.4,336.0" stroke="#c6c49d" stroke-width="3.8"/></g>
<circle cx="305.0" cy="115.2" r="11.8" fill="url(#gO0)"/>
<circle cx="80.1" cy="410.2" r="11.8" fill="url(#gO0)"/>
<circle cx="530.3" cy="529.8" r="11.8" fill="url(#gO0)"/>
<g stroke-linecap="round" fill="none"><path d="M343.9,199.4 L353.3,186.0" stroke="#595529" stroke-width="7.6"/><path d="M343.9,199.4 L353.3,186.0" stroke="#706d38" stroke-width="3.8"/></g>
<g stroke-linecap="round" fill="none"><path d="M281.5,502.5 L268.3,523.1" stroke="#c40808" stroke-width="7.6"/><path d="M281.5,502.5 L268.3,523.1" stroke="#ec1818" stroke-width="3.8"/></g>
<g stroke-linecap="round" fill="none"><path d="M279.1,578.8 L294.7,585.8" stroke="#c40808" stroke-width="7.6"/><path d="M279.1,578.8 L294.7,585.8" stroke="#ec1818" stroke-width="3.8"/></g>
<g stroke-linecap="round" fill="none"><path d="M573.2,383.5 L563.0,402.3" stroke="#c40808" stroke-width="7.6"/><path d="M573.2,383.5 L563.0,402.3" stroke="#ec1818" stroke-width="3.8"/></g>
<g stroke-linecap="round" fill="none"><path d="M348.6,277.6 L349.1,286.2" stroke="#524e26" stroke-width="7.6"/><path d="M348.6,277.6 L349.1,286.2" stroke="#676434" stroke-width="3.8"/></g>
<g stroke-linecap="round" fill="none"><path d="M235.1,372.2 L239.6,391.5" stroke="#575429" stroke-width="7.6"/><path d="M235.1,372.2 L239.6,391.5" stroke="#6f6b37" stroke-width="3.8"/></g>
<g stroke-linecap="round" fill="none"><path d="M494.4,158.6 L483.8,176.4" stroke="#c40808" stroke-width="7.6"/><path d="M494.4,158.6 L483.8,176.4" stroke="#ec1818" stroke-width="3.8"/></g>
<circle cx="500.5" cy="148.5" r="11.8" fill="url(#gO0)"/>
<circle cx="130.5" cy="138.6" r="16.9" fill="url(#gSe0)"/>
<g stroke-linecap="round" fill="none"><path d="M379.4,336.0 L394.1,353.1" stroke="#c40808" stroke-width="7.6"/><path d="M379.4,336.0 L394.1,353.1" stroke="#ec1818" stroke-width="3.8"/></g>
<g stroke-linecap="round" fill="none"><path d="M413.4,364.3 L432.8,368.2" stroke="#c40808" stroke-width="7.6"/><path d="M413.4,364.3 L432.8,368.2" stroke="#ec1818" stroke-width="3.8"/></g>
<g stroke-linecap="round" fill="none"><path d="M310.0,570.3 L308.0,579.2" stroke="#c40808" stroke-width="7.6"/><path d="M310.0,570.3 L308.0,579.2" stroke="#ec1818" stroke-width="3.8"/></g>
<g stroke-linecap="round" fill="none"><path d="M260.5,355.0 L255.5,371.1" stroke="#c40808" stroke-width="7.6"/><path d="M260.5,355.0 L255.5,371.1" stroke="#ec1818" stroke-width="3.8"/></g>
<g stroke-linecap="round" fill="none"><path d="M195.6,416.9 L208.6,414.6" stroke="#c40808" stroke-width="7.6"/><path d="M195.6,416.9 L208.6,414.6" stroke="#ec1818" stroke-width="3.8"/></g>
<g stroke-linecap="round" fill="none"><path d="M176.4,427.9 L161.3,445.9" stroke="#c40808" stroke-width="7.6"/><path d="M176.4,427.9 L161.3,445.9" stroke="#ec1818" stroke-width="3.8"/></g>
<g stroke-linecap="round" fill="none"><path d="M226.1,56.6 L229.0,61.7" stroke="#740505" stroke-width="7.6"/><path d="M226.1,56.6 L229.0,61.7" stroke="#8b0e0e" stroke-width="3.8"/></g>
<g stroke-linecap="round" fill="none"><path d="M195.2,185.2 L203.5,190.9" stroke="#72b612" stroke-width="7.6"/><path d="M195.2,185.2 L203.5,190.9" stroke="#8cd420" stroke-width="3.8"/></g>
<g stroke-linecap="round" fill="none"><path d="M483.8,176.4 L473.1,194.1" stroke="#72b612" stroke-width="7.6"/><path d="M483.8,176.4 L473.1,194.1" stroke="#8cd420" stroke-width="3.8"/></g>
<g stroke-linecap="round" fill="none"><path d="M337.1,209.2 L343.9,199.4" stroke="#910606" stroke-width="7.6"/><path d="M337.1,209.2 L343.9,199.4" stroke="#af1212" stroke-width="3.8"/></g>
<g stroke-linecap="round" fill="none"><path d="M333.0,230.4 L338.9,255.2" stroke="#c40808" stroke-width="7.6"/><path d="M333.0,230.4 L338.9,255.2" stroke="#ec1818" stroke-width="3.8"/></g>
<g stroke-linecap="round" fill="none"><path d="M226.1,532.9 L229.0,537.9" stroke="#740505" stroke-width="7.6"/><path d="M226.1,532.9 L229.0,537.9" stroke="#8b0e0e" stroke-width="3.8"/></g>
<circle cx="464.5" cy="208.5" r="16.9" fill="url(#gSe0)"/>
<circle cx="401.8" cy="362.0" r="11.8" fill="url(#gO0)"/>
<circle cx="557.4" cy="412.7" r="11.8" fill="url(#gO0)"/>
<circle cx="264.1" cy="343.8" r="11.8" fill="url(#gO0)"/>
<circle cx="184.0" cy="418.9" r="11.8" fill="url(#gO0)"/>
<circle cx="287.9" cy="492.6" r="11.8" fill="url(#gO0)"/>
<circle cx="305.5" cy="590.7" r="11.8" fill="url(#gO0)"/>
<g stroke-linecap="round" fill="none"><path d="M348.5,275.7 L348.6,277.6" stroke="#850505" stroke-width="7.6"/><path d="M348.5,275.7 L348.6,277.6" stroke="#a01010" stroke-width="3.8"/></g>
<g stroke-linecap="round" fill="none"><path d="M471.2,417.5 L469.9,436.2" stroke="#c40808" stroke-width="7.6"/><path d="M471.2,417.5 L469.9,436.2" stroke="#ec1818" stroke-width="3.8"/></g>
<g stroke-linecap="round" fill="none"><path d="M186.6,443.3 L205.5,431.8" stroke="#c40808" stroke-width="7.6"/><path d="M186.6,443.3 L205.5,431.8" stroke="#ec1818" stroke-width="3.8"/></g>
<g stroke-linecap="round" fill="none"><path d="M166.9,456.3 L158.5,462.2" stroke="#c40808" stroke-width="7.6"/><path d="M166.9,456.3 L158.5,462.2" stroke="#ec1818" stroke-width="3.8"/></g>
<circle cx="330.3" cy="218.9" r="11.8" fill="url(#gO0)"/>
<g stroke-linecap="round" fill="none"><path d="M231.8,357.8 L235.1,372.2" stroke="#8f0606" stroke-width="7.6"/><path d="M231.8,357.8 L235.1,372.2" stroke="#ac1111" stroke-width="3.8"/></g>
<circle cx="220.3" cy="46.3" r="11.8" fill="url(#gO0)"/>
<circle cx="217.3" cy="200.5" r="16.9" fill="url(#gSe0)"/>
<circle cx="347.8" cy="263.9" r="11.8" fill="url(#gO0)"/>
<circle cx="469.0" cy="448.0" r="11.8" fill="url(#gO0)"/>
<circle cx="176.5" cy="449.5" r="11.8" fill="url(#gO0)"/>
<circle cx="220.3" cy="522.6" r="11.8" fill="url(#gO0)"/>
<circle cx="229.1" cy="346.3" r="11.8" fill="url(#gO0)"/>
<rect x="91.2" y="65.8" width="477.2" height="476.1" fill="none" stroke="#000" stroke-opacity="0.46" stroke-width="1.6" stroke-linejoin="round"/>
</g>
<text transform="translate(2.2,79.6) scale(0.85,1)" font-family="'Liberation Sans', Arial, sans-serif" stroke-linejoin="round" font-size="41.3" fill="#000" stroke="#000" stroke-width="1.9">a</text>
<text transform="translate(204.8,654.0) scale(0.945,1)" font-family="'Liberation Sans', Arial, sans-serif" stroke-linejoin="round" font-size="37.3" fill="#7f7f00" stroke="#7f7f00" stroke-width="1.5">Te</text>
<text transform="translate(335.4,658.0) scale(0.92,1)" font-family="'Liberation Sans', Arial, sans-serif" stroke-linejoin="round" font-size="37.3" fill="#c00000" stroke="#c00000" stroke-width="1.5">O</text>
<text transform="translate(394.0,700.0) scale(0.915,1)" font-family="'Liberation Sans', Arial, sans-serif" stroke-linejoin="round" font-size="35.0" fill="#538135" stroke="#538135" stroke-width="1.5">Se</text>
<g font-family="'Liberation Sans', Arial, sans-serif" fill="#000" style="font-kerning:none">
<rect x="835" y="60" width="1278" height="478.5" fill="none" stroke="#000" stroke-width="1.8"/>
<clipPath id="pc"><rect x="834.15" y="60" width="1279.7" height="479.35"/></clipPath>
<g clip-path="url(#pc)" fill="none" stroke-width="3.7" stroke-linejoin="round" stroke-linecap="round">
<path d="M835.0,476.4C837.9,475.8 840.9,474.7 843.8,474.7C845.9,474.7 848.0,476.2 850.0,477.2C852.5,478.3 855.1,480.9 857.6,480.9C860.1,480.9 862.6,478.5 865.1,477.2C868.0,475.6 870.9,473.5 873.8,472.2C876.3,471.0 878.8,469.2 881.3,469.2C883.0,469.2 884.7,469.4 886.3,469.7C888.3,470.0 890.2,473.4 892.1,473.4C893.9,473.4 895.8,471.3 897.6,469.7C899.7,467.8 901.8,464.0 903.9,460.9C906.0,457.8 908.0,452.5 910.1,450.9C912.2,449.2 914.3,447.6 916.4,447.6C918.5,447.6 920.6,450.0 922.7,451.4C924.3,452.5 926.0,455.1 927.7,455.1C930.2,455.1 932.7,453.4 935.2,453.4C937.3,453.4 939.3,454.0 941.4,454.6C944.4,455.5 947.3,457.8 950.2,460.1C952.7,462.2 955.2,466.5 957.7,468.4C960.6,470.6 963.5,473.4 966.5,473.4C969.4,473.4 972.3,471.1 975.2,469.7C977.7,468.4 980.2,465.8 982.7,465.4C985.2,465.0 987.8,464.6 990.3,464.6C992.3,464.6 994.4,467.8 996.5,469.7C998.6,471.5 1000.7,475.9 1002.8,475.9C1004.9,475.9 1006.9,470.2 1009.0,470.2C1011.1,470.2 1013.2,470.5 1015.3,470.9C1017.8,471.4 1020.3,474.4 1022.8,477.2C1024.9,479.5 1027.0,483.3 1029.1,487.2C1031.2,491.0 1033.2,498.3 1035.3,501.0C1037.8,504.2 1040.3,507.7 1042.8,507.7C1044.9,507.7 1047.0,502.8 1049.1,499.7C1051.2,496.6 1053.3,491.5 1055.4,488.4C1057.0,486.0 1058.7,483.5 1060.4,482.2C1062.4,480.5 1064.5,478.4 1066.6,478.4C1068.7,478.4 1070.8,481.9 1072.9,483.4C1075.0,485.0 1077.1,487.7 1079.1,487.7C1081.2,487.7 1083.3,484.3 1085.4,482.2C1087.9,479.7 1090.4,475.4 1092.9,473.4C1095.0,471.8 1097.1,469.7 1099.2,469.7C1101.3,469.7 1103.3,474.2 1105.4,477.2C1107.9,480.8 1110.4,488.1 1112.9,490.9C1115.4,493.8 1117.9,497.2 1120.5,497.2C1122.5,497.2 1124.6,495.2 1126.7,493.4C1128.8,491.7 1130.9,486.4 1133.0,484.7C1135.1,482.9 1137.1,481.3 1139.2,480.9C1141.3,480.5 1143.4,480.6 1145.5,480.2C1147.2,479.8 1148.8,475.9 1150.5,475.9C1152.6,475.9 1154.7,482.1 1156.8,484.7C1159.3,487.8 1161.8,492.9 1164.3,492.9C1166.4,492.9 1168.4,489.7 1170.5,489.7C1172.6,489.7 1174.7,489.7 1176.8,489.7C1179.3,489.7 1181.8,494.7 1184.3,497.2C1187.2,500.1 1190.1,506.0 1193.1,506.0C1194.7,506.0 1196.4,506.0 1198.1,506.0C1201.0,506.0 1203.9,497.0 1206.8,494.7C1209.8,492.4 1212.7,491.9 1215.6,489.7C1217.3,488.4 1218.9,486.3 1220.6,484.7C1222.7,482.6 1224.8,478.4 1226.9,478.4C1228.9,478.4 1231.0,481.7 1233.1,481.7C1234.8,481.7 1236.5,481.7 1238.1,481.7C1240.2,481.7 1242.3,475.0 1244.4,472.2C1246.5,469.4 1248.6,464.6 1250.6,464.6C1253.1,464.6 1255.7,466.2 1258.2,467.2C1260.7,468.1 1263.2,469.4 1265.7,470.2C1268.2,471.0 1270.7,471.5 1273.2,472.2C1274.8,472.6 1276.5,472.7 1278.2,473.4C1279.9,474.1 1281.5,479.1 1283.2,482.2C1285.3,486.1 1287.4,494.7 1289.5,494.7C1291.1,494.7 1292.8,492.7 1294.5,492.2C1296.3,491.6 1298.2,490.9 1300.0,490.9C1301.7,490.9 1303.3,494.6 1305.0,497.2C1307.1,500.5 1309.2,508.1 1311.3,511.0C1313.8,514.4 1316.3,517.1 1318.8,518.5C1320.9,519.7 1323.0,521.0 1325.0,521.0C1327.1,521.0 1329.2,519.2 1331.3,517.2C1333.0,515.7 1334.6,512.0 1336.3,507.2C1338.0,502.4 1339.6,490.9 1341.3,482.2C1343.0,473.4 1344.7,460.8 1346.3,454.6C1348.0,448.5 1349.7,442.7 1351.3,440.9C1353.4,438.5 1355.5,436.6 1357.6,436.6C1359.3,436.6 1360.9,439.3 1362.6,442.1C1364.3,444.9 1365.9,452.8 1367.6,459.6C1369.3,466.5 1370.9,476.6 1372.6,484.7C1373.9,490.7 1375.1,498.3 1376.4,502.2C1377.6,506.1 1378.9,511.0 1380.1,511.0C1381.8,511.0 1383.5,507.2 1385.1,506.0C1387.2,504.4 1389.3,502.2 1391.4,502.2C1393.1,502.2 1394.7,506.3 1396.4,508.5C1398.5,511.2 1400.6,514.1 1402.7,517.2C1405.2,521.0 1407.7,526.6 1410.2,529.7C1412.7,532.9 1415.2,537.5 1417.7,537.5C1420.2,537.5 1422.7,537.5 1425.2,537.5C1459.0,537.5 1492.8,537.5 1526.6,537.5C1528.7,537.5 1530.8,534.4 1532.8,532.2C1534.9,530.1 1537.0,526.2 1539.1,523.5C1540.8,521.3 1542.4,517.5 1544.1,517.2C1545.8,516.9 1547.5,516.7 1549.1,516.7C1550.8,516.7 1552.5,519.9 1554.1,521.0C1555.8,522.0 1557.5,523.5 1559.1,523.5C1561.2,523.5 1563.3,513.8 1565.4,507.2C1567.1,501.9 1568.7,491.1 1570.4,487.2C1572.1,483.3 1573.7,478.9 1575.4,478.9C1577.5,478.9 1579.6,478.9 1581.7,478.9C1583.8,478.9 1585.8,478.2 1587.9,477.2C1590.0,476.1 1592.1,469.7 1594.2,464.6C1595.9,460.6 1597.5,453.2 1599.2,449.6C1600.5,447.0 1601.7,443.4 1603.0,443.4C1604.2,443.4 1605.5,454.0 1606.7,459.6C1608.4,467.2 1610.0,483.4 1611.7,483.4C1613.4,483.4 1615.1,481.8 1616.7,480.9C1618.4,480.0 1620.1,477.9 1621.7,477.9C1623.4,477.9 1625.1,483.3 1626.7,485.9C1628.8,489.3 1630.9,495.9 1633.0,495.9C1634.7,495.9 1636.3,490.5 1638.0,487.2C1640.1,483.0 1642.2,474.5 1644.3,472.2C1645.9,470.3 1647.6,469.4 1649.3,468.4C1650.9,467.4 1652.6,467.4 1654.3,465.9C1656.0,464.4 1657.6,453.9 1659.3,447.1C1661.0,440.3 1662.6,430.3 1664.3,424.6C1666.0,418.9 1667.6,413.0 1669.3,410.8C1671.0,408.6 1672.6,406.6 1674.3,406.6C1676.0,406.6 1677.6,408.0 1679.3,409.6C1681.4,411.6 1683.5,421.7 1685.6,427.1C1687.7,432.5 1689.8,438.9 1691.8,442.1C1693.9,445.3 1696.0,449.1 1698.1,449.1C1700.2,449.1 1702.3,445.5 1704.4,442.1C1706.4,438.8 1708.5,430.0 1710.6,424.6C1712.7,419.2 1714.8,412.1 1716.9,409.6C1719.0,407.1 1721.0,404.6 1723.1,404.6C1724.4,404.6 1725.6,407.2 1726.9,409.6C1728.6,412.7 1730.2,420.9 1731.9,427.1C1733.6,433.3 1735.2,442.7 1736.9,447.1C1738.6,451.6 1740.2,457.1 1741.9,457.1C1743.6,457.1 1745.3,450.4 1746.9,444.6C1748.6,438.9 1750.3,425.5 1751.9,417.1C1753.2,410.8 1754.4,401.9 1755.7,399.5C1756.9,397.2 1758.2,395.0 1759.4,395.0C1760.7,395.0 1761.9,398.8 1763.2,402.1C1764.9,406.4 1766.5,416.6 1768.2,424.6C1768.8,427.4 1769.4,432.9 1770.0,433.6C1771.7,435.3 1773.3,436.1 1775.0,436.1C1777.2,436.1 1779.5,431.9 1781.7,431.9C1783.4,431.9 1785.0,437.3 1786.7,440.3C1787.8,442.3 1788.9,446.7 1790.0,446.7C1792.0,446.7 1793.9,439.2 1795.9,433.6C1797.6,428.7 1799.2,419.4 1800.9,413.5C1802.3,408.6 1803.7,403.1 1805.1,400.2C1806.5,397.2 1807.9,394.1 1809.3,393.5C1810.4,393.0 1811.5,392.6 1812.6,392.6C1814.0,392.6 1815.4,395.8 1816.8,398.5C1818.2,401.2 1819.6,407.4 1821.0,411.9C1822.3,416.3 1823.7,422.3 1825.1,425.2C1826.5,428.2 1827.9,431.9 1829.3,431.9C1830.7,431.9 1832.1,428.2 1833.5,425.2C1835.2,421.6 1836.8,413.5 1838.5,408.5C1840.2,403.6 1841.8,398.5 1843.5,395.2C1844.9,392.4 1846.3,389.4 1847.7,388.5C1849.1,387.6 1850.5,386.8 1851.9,386.8C1853.0,386.8 1854.1,389.8 1855.2,391.8C1856.6,394.4 1858.0,401.3 1859.4,401.8C1860.8,402.3 1862.2,402.7 1863.6,402.7C1864.9,402.7 1866.3,398.4 1867.7,395.2C1869.1,391.9 1870.5,385.4 1871.9,381.8C1873.0,378.9 1874.1,374.8 1875.2,374.3C1876.6,373.6 1878.0,373.1 1879.4,373.1C1880.5,373.1 1881.6,377.2 1882.8,379.3C1884.2,381.8 1885.5,386.8 1886.9,386.8C1888.3,386.8 1889.7,383.3 1891.1,381.8C1892.5,380.3 1893.9,377.6 1895.3,377.6C1896.7,377.6 1898.1,379.7 1899.5,381.8C1900.9,383.8 1902.3,390.2 1903.6,393.5C1905.0,396.7 1906.4,401.3 1907.8,401.8C1909.2,402.3 1910.6,402.7 1912.0,402.7C1913.7,402.7 1915.3,398.7 1917.0,395.2C1918.4,392.2 1919.8,385.1 1921.2,380.1C1922.6,375.1 1924.0,368.4 1925.4,365.1C1926.8,361.7 1928.1,357.6 1929.5,357.6C1930.9,357.6 1932.3,359.5 1933.7,361.7C1934.8,363.6 1935.9,369.6 1937.1,375.1C1938.2,380.6 1939.3,390.2 1940.4,396.8C1941.5,403.5 1942.6,410.6 1943.7,415.2C1944.9,419.7 1946.0,425.1 1947.1,426.1C1948.2,427.0 1949.3,427.7 1950.4,427.7C1951.5,427.7 1952.6,425.7 1953.8,423.6C1954.9,421.4 1956.0,414.6 1957.1,408.5C1958.2,402.4 1959.3,392.6 1960.4,385.1C1961.6,377.6 1962.7,367.4 1963.8,363.4C1964.9,359.4 1966.0,355.1 1967.1,355.1C1968.2,355.1 1969.4,360.4 1970.5,363.4C1972.1,367.9 1973.8,375.9 1975.5,378.4C1977.2,381.0 1978.8,381.7 1980.5,383.5C1982.2,385.3 1983.8,388.8 1985.5,389.3C1987.2,389.8 1988.8,390.1 1990.5,390.1C1991.9,390.1 1993.3,384.8 1994.7,384.3C1996.1,383.8 1997.5,383.5 1998.9,383.5C2000.5,383.5 2002.2,386.0 2003.9,386.0C2005.5,386.0 2007.2,381.9 2008.9,380.1C2010.6,378.3 2012.2,375.6 2013.9,375.1C2015.6,374.6 2017.2,374.7 2018.9,374.3C2020.6,373.8 2022.3,372.2 2023.9,370.1C2025.3,368.3 2026.7,362.1 2028.1,360.1C2029.4,358.2 2030.7,355.9 2031.9,355.9C2033.2,355.9 2034.4,359.7 2035.6,363.4C2036.7,366.8 2037.8,375.2 2039.0,381.8C2040.1,388.4 2041.2,397.6 2042.3,403.5C2043.4,409.4 2044.5,416.1 2045.6,418.5C2047.0,421.6 2048.4,424.4 2049.8,424.4C2050.9,424.4 2052.0,421.1 2053.2,418.5C2054.6,415.3 2055.9,407.3 2057.3,403.5C2058.7,399.7 2060.1,395.3 2061.5,394.3C2062.9,393.4 2064.3,392.6 2065.7,392.6C2067.4,392.6 2069.0,393.5 2070.7,393.5C2072.4,393.5 2074.0,392.7 2075.7,391.8C2077.4,390.9 2079.1,385.5 2080.7,383.5C2082.4,381.4 2084.1,378.4 2085.7,378.4C2087.4,378.4 2089.1,378.4 2090.7,378.4C2092.1,378.4 2093.5,378.4 2094.9,378.4C2096.3,378.4 2097.7,372.2 2099.1,368.4C2100.5,364.6 2101.9,358.5 2103.3,355.1C2104.7,351.6 2106.1,347.8 2107.5,346.7C2108.6,345.8 2109.7,345.0 2110.8,345.0C2111.5,345.0 2112.2,347.3 2113.0,348.4" stroke="#808000"/>
<path d="M834.5,222.0C835.9,223.5 837.4,226.1 838.8,226.3C841.3,226.6 843.8,226.5 846.3,226.8C848.0,227.0 849.6,233.1 851.3,236.3C853.4,240.4 855.5,248.8 857.6,248.8C858.8,248.8 860.1,247.7 861.3,246.3C863.0,244.5 864.7,233.5 866.3,228.8C868.8,221.7 871.3,215.0 873.8,211.3C876.1,207.9 878.3,203.8 880.6,203.8C881.7,203.8 882.8,208.0 883.8,211.3C885.5,216.3 887.2,227.8 888.9,235.1C890.1,240.5 891.4,250.1 892.6,250.1C894.3,250.1 895.9,250.1 897.6,250.1C899.3,250.1 901.0,237.1 902.6,231.3C904.3,225.5 906.0,218.0 907.6,215.0C909.1,212.4 910.6,209.5 912.1,209.5C913.6,209.5 915.0,211.0 916.4,212.5C918.1,214.3 919.7,220.2 921.4,225.1C923.1,229.9 924.7,239.7 926.4,242.6C927.7,244.8 928.9,247.1 930.2,247.1C931.8,247.1 933.5,242.6 935.2,242.6C936.7,242.6 938.2,242.7 939.7,243.1C940.7,243.3 941.7,248.9 942.7,252.6C944.4,258.7 946.0,268.1 947.7,275.1C949.4,282.2 951.0,288.5 952.7,295.2C954.4,301.8 956.0,310.4 957.7,315.2C959.2,319.5 960.7,325.2 962.2,325.2C963.6,325.2 965.1,323.0 966.5,321.4C968.1,319.7 969.8,315.8 971.5,314.7C973.6,313.3 975.7,312.9 977.7,311.9C979.8,311.0 981.9,309.2 984.0,309.2C985.7,309.2 987.3,310.5 989.0,311.9C990.7,313.4 992.3,317.8 994.0,322.7C995.7,327.6 997.3,339.3 999.0,345.2C1000.3,349.7 1001.5,356.5 1002.8,356.5C1004.0,356.5 1005.3,355.9 1006.5,355.2C1007.8,354.6 1009.0,349.5 1010.3,349.5C1011.5,349.5 1012.8,351.2 1014.0,352.7C1015.3,354.3 1016.5,358.7 1017.8,361.5C1018.6,363.4 1019.5,365.5 1020.3,367.0C1022.0,370.0 1023.6,370.8 1025.3,374.5C1026.6,377.3 1027.8,383.1 1029.1,389.5C1030.3,396.0 1031.6,407.5 1032.8,417.1C1034.1,426.7 1035.3,438.8 1036.6,447.1C1037.7,454.4 1038.7,463.8 1039.8,465.9C1041.1,468.3 1042.3,470.2 1043.6,470.2C1045.0,470.2 1046.4,465.4 1047.8,462.1C1049.5,458.3 1051.2,449.7 1052.8,447.1C1054.9,443.9 1057.0,440.9 1059.1,440.9C1060.8,440.9 1062.4,442.7 1064.1,444.6C1066.2,447.0 1068.3,455.6 1070.4,459.6C1072.9,464.5 1075.4,471.7 1077.9,471.7C1080.4,471.7 1082.9,466.8 1085.4,464.6C1087.5,462.9 1089.6,460.7 1091.7,459.6C1093.3,458.8 1095.0,457.6 1096.7,457.6C1098.3,457.6 1100.0,460.9 1101.7,463.4C1103.8,466.5 1105.8,472.8 1107.9,477.2C1110.0,481.5 1112.1,487.8 1114.2,489.7C1116.3,491.6 1118.4,493.4 1120.5,493.4C1122.5,493.4 1124.6,489.6 1126.7,487.2C1128.8,484.7 1130.9,480.2 1133.0,478.4C1135.1,476.7 1137.1,475.9 1139.2,474.7C1141.3,473.4 1143.4,472.4 1145.5,470.9C1147.2,469.7 1148.8,466.6 1150.5,466.6C1152.2,466.6 1153.8,471.6 1155.5,474.7C1157.6,478.5 1159.7,488.4 1161.8,488.4C1163.8,488.4 1165.9,486.7 1168.0,485.9C1170.5,485.0 1173.0,483.4 1175.5,483.4C1177.6,483.4 1179.7,487.1 1181.8,489.7C1183.9,492.3 1186.0,497.6 1188.1,499.7C1190.6,502.2 1193.1,504.4 1195.6,505.2C1198.9,506.3 1202.2,507.2 1205.6,507.2C1208.1,507.2 1210.6,506.0 1213.1,504.7C1215.6,503.5 1218.1,499.4 1220.6,497.2C1223.1,495.0 1225.6,491.4 1228.1,491.4C1230.6,491.4 1233.1,492.2 1235.6,492.2C1238.1,492.2 1240.6,489.2 1243.1,487.2C1245.6,485.1 1248.1,479.2 1250.6,479.2C1253.1,479.2 1255.7,480.0 1258.2,480.9C1260.7,481.8 1263.2,485.3 1265.7,487.2C1268.2,489.0 1270.7,490.2 1273.2,492.2C1275.7,494.2 1278.2,496.8 1280.7,499.7C1283.2,502.6 1285.7,509.7 1288.2,509.7C1291.5,509.7 1294.9,508.5 1298.2,508.5C1300.9,508.5 1303.6,514.4 1306.3,517.2C1308.8,519.8 1311.3,522.9 1313.8,524.7C1316.3,526.6 1318.8,528.9 1321.3,529.2C1323.8,529.5 1326.3,529.7 1328.8,529.7C1331.3,529.7 1333.8,527.3 1336.3,524.7C1338.4,522.6 1340.5,515.8 1342.6,512.2C1345.1,507.9 1347.6,502.9 1350.1,501.0C1352.2,499.4 1354.2,497.7 1356.3,497.7C1358.4,497.7 1360.5,499.3 1362.6,501.0C1364.7,502.6 1366.8,508.5 1368.9,512.2C1370.9,516.0 1373.0,521.5 1375.1,523.5C1376.8,525.1 1378.5,526.7 1380.1,526.7C1382.2,526.7 1384.3,522.9 1386.4,522.2C1388.5,521.6 1390.6,521.0 1392.6,521.0C1394.7,521.0 1396.8,523.3 1398.9,524.7C1401.4,526.5 1403.9,528.9 1406.4,531.0C1408.9,533.1 1411.4,537.5 1413.9,537.5C1416.8,537.5 1419.8,537.5 1422.7,537.5C1458.6,537.5 1494.5,537.5 1530.3,537.5C1532.8,537.5 1535.4,535.2 1537.9,534.8C1541.2,534.1 1544.5,533.5 1547.9,533.5C1551.2,533.5 1554.5,537.5 1557.9,537.5C1560.4,537.5 1562.9,532.9 1565.4,531.0C1567.9,529.1 1570.4,526.7 1572.9,526.0C1575.4,525.3 1577.9,525.0 1580.4,524.7C1582.9,524.5 1585.4,524.5 1587.9,524.2C1590.4,523.9 1592.9,522.2 1595.4,521.0C1597.9,519.7 1600.5,516.5 1603.0,516.5C1604.6,516.5 1606.3,518.6 1608.0,519.7C1609.6,520.9 1611.3,523.5 1613.0,523.5C1615.1,523.5 1617.1,521.7 1619.2,521.7C1621.3,521.7 1623.4,522.0 1625.5,522.2C1628.0,522.6 1630.5,525.2 1633.0,525.2C1635.1,525.2 1637.2,523.3 1639.3,522.2C1641.3,521.1 1643.4,519.0 1645.5,518.5C1648.0,517.8 1650.5,517.9 1653.0,517.2C1655.1,516.6 1657.2,514.2 1659.3,512.2C1661.4,510.2 1663.5,506.5 1665.5,504.7C1667.6,502.9 1669.7,500.5 1671.8,500.5C1674.3,500.5 1676.8,500.5 1679.3,500.5C1681.8,500.5 1684.3,504.2 1686.8,506.0C1689.3,507.7 1691.8,511.0 1694.3,511.0C1696.4,511.0 1698.5,510.6 1700.6,510.2C1703.1,509.7 1705.6,506.8 1708.1,504.7C1710.6,502.6 1713.1,499.3 1715.6,497.2C1718.1,495.1 1720.6,491.7 1723.1,491.7C1724.8,491.7 1726.5,493.3 1728.1,494.7C1730.2,496.5 1732.3,502.0 1734.4,504.7C1736.5,507.5 1738.6,511.7 1740.7,511.7C1742.3,511.7 1744.0,509.1 1745.7,507.2C1748.2,504.3 1750.7,497.5 1753.2,494.7C1755.3,492.3 1757.4,489.2 1759.4,489.2C1761.5,489.2 1763.6,493.6 1765.7,495.9C1767.1,497.6 1768.6,501.0 1770.0,501.0C1771.9,501.0 1773.9,500.6 1775.8,500.2C1777.5,499.8 1779.2,498.5 1780.9,498.5C1782.5,498.5 1784.2,500.0 1785.9,501.0C1787.8,502.2 1789.8,506.0 1791.7,506.0C1793.1,506.0 1794.5,503.7 1795.9,501.8C1797.6,499.6 1799.2,494.6 1800.9,491.8C1802.9,488.5 1804.8,484.2 1806.8,483.5C1808.7,482.7 1810.7,482.1 1812.6,482.1C1814.5,482.1 1816.5,485.0 1818.4,486.8C1820.7,488.9 1822.9,492.8 1825.1,494.3C1827.1,495.6 1829.0,497.2 1831.0,497.2C1832.9,497.2 1834.9,494.3 1836.8,492.6C1839.1,490.7 1841.3,487.1 1843.5,486.0C1846.0,484.7 1848.5,483.5 1851.0,483.5C1853.0,483.5 1854.9,485.1 1856.9,486.0C1858.8,486.8 1860.8,488.5 1862.7,488.5C1864.7,488.5 1866.6,486.0 1868.6,484.3C1870.5,482.6 1872.5,477.6 1874.4,477.6C1876.4,477.6 1878.3,477.6 1880.3,477.6C1882.5,477.6 1884.7,481.8 1886.9,481.8C1888.9,481.8 1890.8,478.9 1892.8,478.4C1894.7,478.0 1896.7,477.6 1898.6,477.6C1900.3,477.6 1902.0,482.3 1903.6,483.5C1905.9,485.0 1908.1,486.8 1910.3,486.8C1912.3,486.8 1914.2,483.7 1916.2,481.8C1918.1,479.9 1920.1,477.3 1922.0,475.1C1923.7,473.3 1925.4,470.2 1927.0,469.8C1928.1,469.5 1929.3,469.3 1930.4,469.3C1932.0,469.3 1933.7,472.0 1935.4,474.3C1937.1,476.6 1938.7,481.8 1940.4,485.1C1942.1,488.4 1943.7,493.6 1945.4,494.3C1947.1,495.0 1948.8,495.5 1950.4,495.5C1952.1,495.5 1953.8,492.9 1955.4,490.1C1956.8,487.9 1958.2,480.9 1959.6,476.8C1961.0,472.6 1962.4,466.8 1963.8,465.1C1965.2,463.3 1966.6,461.7 1968.0,461.7C1969.4,461.7 1970.7,464.5 1972.1,465.9C1973.8,467.6 1975.5,469.8 1977.2,470.9C1979.1,472.2 1981.0,472.9 1983.0,473.8C1984.9,474.7 1986.9,476.4 1988.8,476.4C1991.6,476.4 1994.4,474.8 1997.2,474.8C1999.4,474.8 2001.7,475.9 2003.9,475.9C2006.1,475.9 2008.3,473.3 2010.6,473.1C2013.3,472.8 2016.1,472.9 2018.9,472.6C2020.6,472.4 2022.3,471.1 2023.9,469.8C2025.3,468.6 2026.7,465.5 2028.1,464.2C2029.4,463.1 2030.7,461.7 2031.9,461.7C2033.4,461.7 2035.0,463.8 2036.5,465.9C2037.8,467.9 2039.2,474.7 2040.6,478.4C2042.0,482.2 2043.4,487.7 2044.8,488.5C2046.2,489.3 2047.6,489.8 2049.0,489.8C2050.7,489.8 2052.3,487.0 2054.0,485.1C2055.7,483.3 2057.3,480.0 2059.0,478.4C2060.7,476.9 2062.3,474.8 2064.0,474.8C2066.2,474.8 2068.5,474.8 2070.7,474.8C2072.9,474.8 2075.2,474.3 2077.4,473.8C2079.6,473.3 2081.8,471.4 2084.1,470.9C2087.4,470.3 2090.7,470.5 2094.1,469.8C2096.0,469.3 2098.0,465.9 2099.9,463.4C2101.6,461.3 2103.3,457.6 2104.9,455.9C2106.3,454.5 2107.7,452.6 2109.1,452.6C2110.4,452.6 2111.7,453.7 2113.0,454.2" stroke="#f20d0d"/>
<path d="M835.0,432.6C837.5,430.3 840.0,428.0 842.5,425.8C845.0,423.7 847.5,421.4 850.0,419.6C852.5,417.7 855.1,416.9 857.6,414.6C860.5,411.8 863.4,402.8 866.3,399.5C868.8,396.8 871.3,395.1 873.8,393.3C876.3,391.4 878.8,388.3 881.3,388.3C883.0,388.3 884.7,390.8 886.3,392.0C888.3,393.5 890.2,396.5 892.1,396.5C893.9,396.5 895.8,392.2 897.6,389.5C900.1,385.9 902.6,382.9 905.1,377.0C907.2,372.1 909.3,355.7 911.4,352.7C913.3,350.0 915.2,347.7 917.1,347.7C919.0,347.7 920.8,350.9 922.7,352.7C924.3,354.4 926.0,357.3 927.7,358.3C929.7,359.5 931.8,359.3 933.9,360.8C935.2,361.6 936.4,364.2 937.7,367.0C938.9,369.8 940.2,375.1 941.4,379.5C943.1,385.4 944.8,394.6 946.4,398.3C948.9,403.8 951.4,406.8 954.0,409.6C956.7,412.6 959.5,416.6 962.2,416.6C964.0,416.6 965.9,413.4 967.7,410.8C970.2,407.3 972.7,399.7 975.2,394.5C977.7,389.3 980.2,383.1 982.7,379.5C984.8,376.5 986.9,372.5 989.0,372.5C990.7,372.5 992.3,372.8 994.0,373.3C995.3,373.6 996.5,380.5 997.8,384.5C999.4,389.9 1001.1,399.0 1002.8,402.1C1004.4,405.1 1006.1,405.9 1007.8,408.3C1009.0,410.1 1010.3,411.8 1011.5,414.6C1012.8,417.4 1014.0,423.5 1015.3,427.1C1017.0,431.9 1018.6,436.6 1020.3,439.6C1022.8,444.1 1025.3,446.5 1027.8,449.6C1031.0,453.6 1034.2,460.9 1037.3,460.9C1038.7,460.9 1040.2,449.7 1041.6,442.1C1042.8,435.4 1044.1,426.8 1045.3,417.1C1046.6,407.3 1047.8,395.4 1049.1,382.0C1049.5,377.6 1049.9,371.3 1050.3,367.0C1051.2,358.4 1052.0,352.3 1052.8,345.2C1053.9,336.7 1054.9,325.6 1055.9,320.2C1056.9,314.3 1058.0,307.5 1059.1,307.2C1060.8,306.7 1062.4,306.4 1064.1,306.4C1065.4,306.4 1066.6,315.4 1067.9,320.2C1069.1,325.0 1070.4,331.9 1071.6,335.2C1072.9,338.6 1074.1,342.7 1075.4,342.7C1076.6,342.7 1077.9,338.4 1079.1,335.2C1080.8,331.0 1082.5,322.5 1084.1,317.7C1086.2,311.7 1088.3,307.2 1090.4,302.7C1092.1,299.0 1093.7,292.7 1095.4,292.7C1096.9,292.7 1098.4,292.7 1099.9,292.7C1100.9,292.7 1101.9,303.5 1102.9,310.2C1104.2,318.6 1105.4,330.8 1106.7,340.2C1107.9,349.7 1109.2,361.0 1110.4,367.0C1111.7,373.1 1112.9,377.7 1114.2,380.8C1115.4,383.8 1116.7,387.5 1117.9,387.5C1119.6,387.5 1121.3,385.7 1123.0,383.3C1124.2,381.4 1125.5,372.1 1126.7,367.0C1128.4,360.2 1130.0,352.5 1131.7,347.7C1133.4,343.0 1135.1,338.3 1136.7,336.5C1138.4,334.6 1140.1,334.7 1141.7,332.7C1143.0,331.2 1144.2,327.5 1145.5,322.7C1146.7,317.9 1148.0,304.4 1149.2,297.7C1150.7,289.6 1152.2,277.6 1153.8,277.6C1155.0,277.6 1156.3,285.1 1157.5,290.2C1158.9,295.9 1160.3,309.3 1161.8,312.7C1163.4,316.6 1165.1,318.7 1166.8,320.2C1168.9,322.0 1170.9,324.0 1173.0,324.0C1174.7,324.0 1176.4,324.0 1178.0,324.0C1179.3,324.0 1180.5,326.4 1181.8,329.0C1183.0,331.5 1184.3,338.4 1185.5,345.2C1186.5,350.7 1187.6,359.9 1188.6,367.0C1189.6,374.7 1190.7,384.3 1191.8,389.5C1193.1,395.6 1194.3,401.6 1195.6,403.3C1196.6,404.6 1197.6,405.8 1198.6,405.8C1200.5,405.8 1202.4,404.2 1204.3,402.1C1205.6,400.7 1206.8,397.5 1208.1,392.0C1208.9,388.4 1209.8,374.0 1210.6,367.0C1211.8,356.5 1213.1,350.6 1214.3,340.2C1215.6,329.8 1216.8,313.8 1218.1,302.7C1219.3,291.5 1220.6,277.3 1221.9,272.6C1222.9,268.6 1224.0,264.6 1225.1,264.6C1226.3,264.6 1227.4,265.3 1228.6,266.4C1229.7,267.4 1230.8,277.9 1231.9,285.1C1233.1,293.5 1234.4,306.6 1235.6,315.2C1236.9,323.8 1238.1,333.6 1239.4,337.7C1240.8,342.4 1242.2,347.2 1243.6,347.2C1245.1,347.2 1246.6,344.1 1248.1,342.2C1250.2,339.6 1252.3,335.0 1254.4,332.7C1256.5,330.4 1258.6,328.1 1260.7,327.2C1262.3,326.5 1264.0,325.7 1265.7,325.7C1267.2,325.7 1268.7,327.2 1270.2,329.0C1271.6,330.6 1273.0,337.3 1274.4,342.7C1275.7,347.5 1276.9,354.0 1278.2,360.3C1279.9,368.5 1281.5,377.6 1283.2,387.0C1284.4,394.1 1285.7,405.8 1287.0,409.6C1288.2,413.3 1289.5,417.1 1290.7,417.1C1292.0,417.1 1293.2,413.6 1294.5,410.8C1295.7,408.0 1297.0,400.7 1298.2,398.3C1298.8,397.2 1299.4,395.8 1300.0,395.8C1301.3,395.8 1302.5,397.4 1303.8,399.5C1305.0,401.7 1306.3,413.1 1307.5,419.6C1309.2,428.2 1310.8,437.2 1312.5,444.6C1314.6,453.9 1316.7,460.9 1318.8,469.7C1320.9,478.4 1323.0,490.1 1325.0,497.2C1327.1,504.3 1329.2,514.7 1331.3,514.7C1333.0,514.7 1334.6,513.0 1336.3,511.0C1338.0,508.9 1339.6,500.4 1341.3,494.7C1343.4,487.6 1345.5,478.5 1347.6,472.2C1349.7,465.9 1351.7,458.5 1353.8,455.9C1355.2,454.1 1356.7,452.1 1358.1,452.1C1359.6,452.1 1361.1,454.7 1362.6,457.1C1364.3,459.8 1365.9,467.5 1367.6,472.2C1369.7,478.0 1371.8,488.4 1373.9,488.4C1375.5,488.4 1377.2,477.1 1378.9,467.2C1380.5,457.2 1382.2,432.4 1383.9,417.1C1385.5,401.7 1387.2,384.7 1388.9,374.5C1390.1,367.2 1391.3,357.0 1392.5,357.0C1394.2,357.0 1395.9,368.7 1397.6,377.0C1399.3,385.1 1401.0,397.0 1402.7,409.6C1404.3,422.2 1406.0,441.0 1407.7,454.6C1409.3,468.3 1411.0,481.6 1412.7,492.2C1414.3,502.8 1416.0,513.6 1417.7,519.7C1419.3,525.8 1421.0,531.5 1422.7,533.5C1424.4,535.5 1426.0,537.3 1427.7,537.3C1460.7,537.3 1493.6,537.3 1526.6,537.3C1528.7,537.3 1530.8,534.4 1532.8,532.2C1534.9,530.1 1537.0,526.2 1539.1,523.5C1540.8,521.3 1542.4,517.5 1544.1,517.2C1545.8,516.9 1547.5,516.7 1549.1,516.7C1550.8,516.7 1552.5,519.8 1554.1,521.0C1555.8,522.2 1557.5,524.2 1559.1,524.2C1560.4,524.2 1561.6,520.2 1562.9,517.2C1564.6,513.2 1566.2,504.5 1567.9,499.7C1569.6,494.9 1571.2,488.3 1572.9,487.7C1574.6,487.1 1576.2,486.7 1577.9,486.7C1579.6,486.7 1581.3,488.9 1582.9,488.9C1585.0,488.9 1587.1,486.8 1589.2,484.7C1591.3,482.6 1593.4,476.8 1595.4,472.2C1597.1,468.4 1598.8,461.3 1600.5,459.6C1601.5,458.6 1602.5,457.6 1603.5,457.6C1604.5,457.6 1605.6,464.2 1606.7,467.2C1608.0,470.5 1609.2,476.4 1610.5,476.4C1611.7,476.4 1613.0,471.1 1614.2,467.2C1615.9,461.9 1617.6,449.2 1619.2,444.6C1620.5,441.2 1621.7,437.1 1623.0,437.1C1624.2,437.1 1625.5,439.6 1626.7,442.1C1628.4,445.5 1630.1,459.6 1631.7,464.6C1633.4,469.7 1635.1,475.9 1636.8,475.9C1638.4,475.9 1640.1,472.2 1641.8,470.9C1643.4,469.7 1645.1,467.9 1646.8,467.9C1648.4,467.9 1650.1,471.6 1651.8,473.4C1653.4,475.2 1655.1,478.9 1656.8,478.9C1658.5,478.9 1660.1,472.9 1661.8,469.7C1663.9,465.6 1666.0,460.3 1668.1,457.1C1670.1,454.0 1672.2,451.9 1674.3,449.6C1676.4,447.3 1678.5,443.4 1680.6,443.4C1682.2,443.4 1683.9,446.3 1685.6,448.4C1687.7,450.9 1689.8,456.3 1691.8,458.4C1693.9,460.5 1696.0,462.9 1698.1,462.9C1700.2,462.9 1702.3,462.4 1704.4,461.6C1706.4,460.9 1708.5,454.8 1710.6,449.6C1712.7,444.4 1714.8,433.7 1716.9,427.1C1719.0,420.5 1721.0,410.7 1723.1,409.6C1724.4,408.9 1725.6,408.3 1726.9,408.3C1728.1,408.3 1729.4,413.2 1730.6,417.1C1732.3,422.3 1734.0,435.2 1735.7,442.1C1737.3,449.0 1739.0,458.1 1740.7,459.6C1741.9,460.8 1743.2,461.6 1744.4,461.6C1746.1,461.6 1747.8,456.4 1749.4,452.1C1751.1,447.8 1752.8,437.5 1754.4,432.1C1756.1,426.7 1757.8,420.1 1759.4,418.3C1760.7,417.0 1761.9,415.8 1763.2,415.8C1764.4,415.8 1765.7,423.2 1767.0,427.1C1768.0,430.2 1769.0,435.3 1770.0,436.7C1772.2,439.6 1774.5,439.5 1776.7,441.7C1778.9,443.9 1781.1,448.5 1783.4,451.7C1785.3,454.6 1787.3,460.1 1789.2,460.1C1791.2,460.1 1793.1,455.1 1795.1,450.0C1796.2,447.2 1797.3,440.8 1798.4,435.0C1799.8,427.7 1801.2,410.5 1802.6,408.5C1804.0,406.5 1805.4,405.2 1806.8,405.2C1808.1,405.2 1809.5,405.9 1810.9,406.8C1812.3,407.8 1813.7,413.2 1815.1,416.9C1816.8,421.3 1818.4,428.0 1820.1,431.9C1821.2,434.5 1822.3,436.9 1823.5,438.4C1824.9,440.2 1826.2,442.5 1827.6,442.5C1829.3,442.5 1831.0,440.7 1832.6,438.4C1834.3,436.1 1836.0,424.2 1837.7,418.5C1839.3,412.8 1841.0,407.0 1842.7,403.5C1844.1,400.6 1845.5,397.7 1846.8,396.8C1848.2,395.9 1849.6,395.2 1851.0,395.2C1852.4,395.2 1853.8,399.8 1855.2,403.5C1856.6,407.2 1858.0,417.6 1859.4,420.2C1860.8,422.8 1862.2,425.2 1863.6,425.2C1864.9,425.2 1866.3,422.6 1867.7,420.2C1869.1,417.8 1870.5,410.8 1871.9,406.8C1873.3,402.9 1874.7,397.6 1876.1,396.0C1877.2,394.7 1878.3,393.5 1879.4,393.5C1880.8,393.5 1882.2,395.8 1883.6,396.8C1885.3,398.0 1886.9,400.2 1888.6,400.2C1890.3,400.2 1892.0,397.9 1893.6,396.8C1895.3,395.7 1897.0,393.5 1898.6,393.5C1900.0,393.5 1901.4,393.8 1902.8,394.3C1904.2,394.8 1905.6,400.1 1907.0,403.5C1908.4,406.9 1909.8,412.0 1911.2,415.2C1912.6,418.4 1913.9,422.0 1915.3,423.6C1916.7,425.1 1918.1,426.9 1919.5,426.9C1920.9,426.9 1922.3,424.1 1923.7,421.9C1925.1,419.7 1926.5,414.3 1927.9,411.9C1929.3,409.4 1930.7,406.0 1932.0,406.0C1933.2,406.0 1934.3,407.2 1935.4,408.5C1936.5,409.9 1937.6,415.6 1938.7,418.5C1940.1,422.3 1941.5,427.7 1942.9,428.6C1944.6,429.6 1946.2,430.2 1947.9,430.2C1949.6,430.2 1951.3,429.0 1952.9,426.9C1954.0,425.5 1955.2,417.3 1956.3,410.2C1957.4,403.0 1958.5,388.9 1959.6,380.1C1960.7,371.3 1961.8,361.1 1963.0,356.7C1964.1,352.3 1965.2,347.5 1966.3,347.5C1967.4,347.5 1968.5,348.2 1969.6,349.2C1970.7,350.2 1971.9,358.0 1973.0,361.7C1974.4,366.4 1975.8,371.9 1977.2,374.3C1978.5,376.7 1979.9,377.1 1981.3,379.3C1982.7,381.4 1984.1,385.9 1985.5,388.5C1986.9,391.0 1988.3,394.4 1989.7,395.2C1991.6,396.1 1993.6,396.0 1995.5,396.8C1997.2,397.5 1998.9,399.2 2000.5,400.2C2002.2,401.1 2003.9,402.3 2005.5,402.7C2007.2,403.1 2008.9,403.0 2010.6,403.5C2012.2,404.0 2013.9,408.8 2015.6,410.2C2017.0,411.3 2018.4,412.7 2019.7,412.7C2021.1,412.7 2022.5,410.2 2023.9,406.8C2025.0,404.2 2026.2,390.7 2027.3,383.5C2028.4,376.3 2029.5,365.7 2030.6,363.4C2031.7,361.1 2032.8,359.2 2033.9,359.2C2035.1,359.2 2036.2,361.1 2037.3,363.4C2038.4,365.7 2039.5,375.4 2040.6,381.8C2041.7,388.2 2042.9,397.9 2044.0,401.8C2045.1,405.8 2046.2,410.2 2047.3,410.2C2048.4,410.2 2049.5,406.8 2050.7,403.5C2051.8,400.2 2052.9,391.8 2054.0,385.1C2055.1,378.5 2056.2,366.6 2057.3,363.4C2058.7,359.4 2060.1,355.9 2061.5,355.9C2062.6,355.9 2063.7,357.8 2064.9,360.1C2066.0,362.3 2067.1,371.6 2068.2,376.8C2069.6,383.3 2071.0,391.9 2072.4,395.2C2073.8,398.4 2075.2,400.6 2076.5,401.8C2077.9,403.0 2079.3,403.4 2080.7,404.3C2082.1,405.3 2083.5,406.3 2084.9,407.7C2086.3,409.0 2087.7,412.3 2089.1,412.7C2090.7,413.2 2092.4,413.5 2094.1,413.5C2095.5,413.5 2096.9,410.6 2098.3,408.5C2099.7,406.4 2101.1,401.7 2102.4,400.2C2103.6,399.0 2104.7,397.7 2105.8,397.7C2107.2,397.7 2108.6,399.5 2110.0,401.8C2111.0,403.5 2112.0,409.6 2113.0,413.5" stroke="#0aa30a"/>
<line x1="1474.4" y1="53.4" x2="1474.4" y2="538.5" stroke="#505050" stroke-width="2.2" stroke-dasharray="5.7 5.7" stroke-linecap="butt"/>
</g>
<line x1="835.0" y1="538.5" x2="835.0" y2="553.5" stroke="#000" stroke-width="1.7"/>
<text x="834.5" y="585.6" font-size="31.4" text-anchor="middle">-3</text>
<line x1="941.5" y1="538.5" x2="941.5" y2="546.0" stroke="#000" stroke-width="1.7"/>
<line x1="1048.0" y1="538.5" x2="1048.0" y2="553.5" stroke="#000" stroke-width="1.7"/>
<text x="1047.5" y="585.6" font-size="31.4" text-anchor="middle">-2</text>
<line x1="1154.5" y1="538.5" x2="1154.5" y2="546.0" stroke="#000" stroke-width="1.7"/>
<line x1="1261.0" y1="538.5" x2="1261.0" y2="553.5" stroke="#000" stroke-width="1.7"/>
<text x="1260.5" y="585.6" font-size="31.4" text-anchor="middle">-1</text>
<line x1="1367.5" y1="538.5" x2="1367.5" y2="546.0" stroke="#000" stroke-width="1.7"/>
<line x1="1474.0" y1="538.5" x2="1474.0" y2="553.5" stroke="#000" stroke-width="1.7"/>
<text x="1474.0" y="585.6" font-size="31.4" text-anchor="middle">0</text>
<line x1="1580.5" y1="538.5" x2="1580.5" y2="546.0" stroke="#000" stroke-width="1.7"/>
<line x1="1687.0" y1="538.5" x2="1687.0" y2="553.5" stroke="#000" stroke-width="1.7"/>
<text x="1687.0" y="585.6" font-size="31.4" text-anchor="middle">1</text>
<line x1="1793.5" y1="538.5" x2="1793.5" y2="546.0" stroke="#000" stroke-width="1.7"/>
<line x1="1900.0" y1="538.5" x2="1900.0" y2="553.5" stroke="#000" stroke-width="1.7"/>
<text x="1900.0" y="585.6" font-size="31.4" text-anchor="middle">2</text>
<line x1="2006.5" y1="538.5" x2="2006.5" y2="546.0" stroke="#000" stroke-width="1.7"/>
<line x1="2113.0" y1="538.5" x2="2113.0" y2="553.5" stroke="#000" stroke-width="1.7"/>
<text x="2113.0" y="585.6" font-size="31.4" text-anchor="middle">3</text>
<text x="1417.5" y="643" font-size="32" letter-spacing="1.1"><tspan font-style="italic">E</tspan>-<tspan font-style="italic">E</tspan><tspan font-size="22" dy="9.5">F</tspan><tspan dy="-9.5" dx="1.5"> (eV)</tspan></text>
<text transform="translate(793,450.3) rotate(-90)" font-size="30.8">Density of states (a.u.)</text>
<text x="854" y="107.5" font-size="31.5" letter-spacing="0.25">Se-alloyed Te-TeO<tspan font-size="21.5" dy="8.5">x</tspan></text>
<line x1="1965" y1="94.0" x2="2035.5" y2="94.0" stroke="#808000" stroke-width="4.3" stroke-linecap="round"/>
<text x="2043.6" y="104.3" font-size="30.6" letter-spacing="0.9">Te</text>
<line x1="1965" y1="132.7" x2="2035.5" y2="132.7" stroke="#f20d0d" stroke-width="4.3" stroke-linecap="round"/>
<text x="2043.6" y="143.0" font-size="30.6" letter-spacing="0">O</text>
<line x1="1965" y1="171.4" x2="2035.5" y2="171.4" stroke="#0aa30a" stroke-width="4.3" stroke-linecap="round"/>
<text x="2043.6" y="181.7" font-size="30.6" letter-spacing="1.5">Se</text>
</g>
<text transform="translate(768.3,85.1) scale(0.97,1)" font-family="'Liberation Sans', Arial, sans-serif" font-size="42.8" fill="#000" stroke="#000" stroke-width="1.9" stroke-linejoin="round">b</text>
</svg>
</body>
</html>
